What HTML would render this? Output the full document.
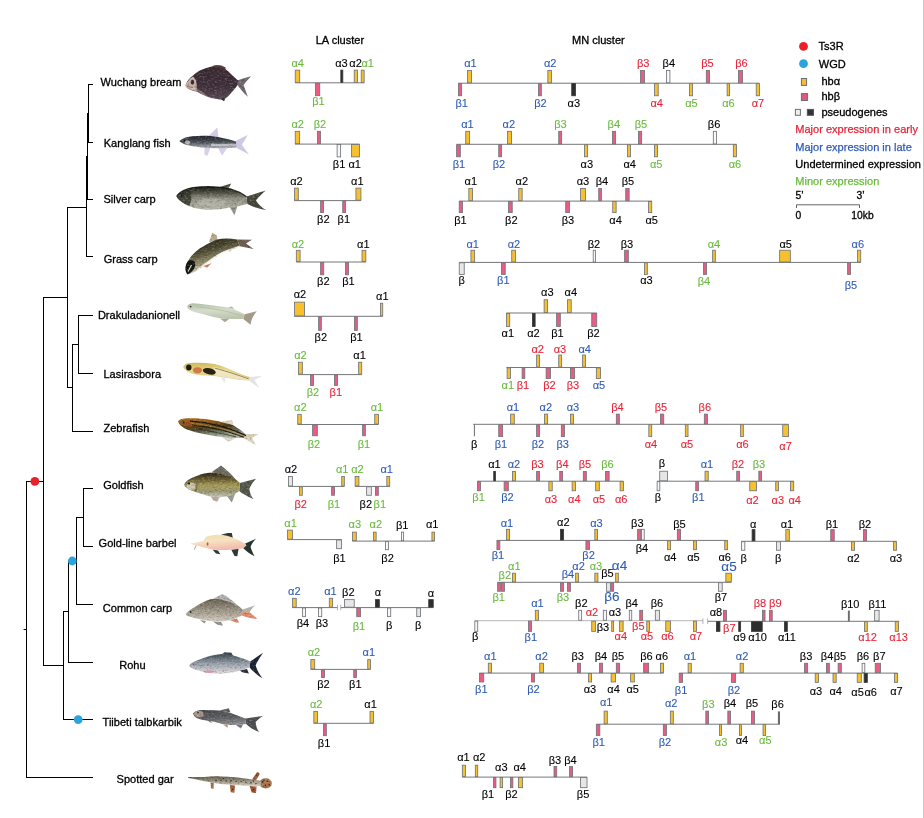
<!DOCTYPE html>
<html><head><meta charset="utf-8"><title>Hemoglobin gene clusters</title>
<style>
html,body{margin:0;padding:0;background:#fff}
body{width:924px;height:818px;overflow:hidden;position:relative}
svg{display:block;font-family:"Liberation Sans",sans-serif;font-size:11.04px}
.edge{position:absolute;left:923px;top:0;width:1px;height:818px;background:#c9c9c9}
</style></head><body>
<svg width="924" height="818" viewBox="0 0 924 818">
<g id="tree">
<g fill="#000">
<rect x="88" y="84" width="1" height="59" />
<rect x="87" y="113" width="1" height="87" />
<rect x="86" y="156" width="1" height="101" />
<rect x="88" y="84" width="5" height="1" />
<rect x="88" y="142" width="5" height="1" />
<rect x="87" y="199" width="6" height="1" />
<rect x="86" y="256" width="7" height="1" />
<rect x="67" y="207" width="19" height="1" />
<rect x="67" y="207" width="1" height="181" />
<rect x="43" y="297" width="24" height="1" />
<rect x="43" y="297" width="1" height="369" />
<rect x="78" y="315" width="15" height="1" />
<rect x="78" y="315" width="1" height="59" />
<rect x="78" y="373" width="15" height="1" />
<rect x="72" y="344" width="6" height="1" />
<rect x="72" y="344" width="1" height="88" />
<rect x="72" y="431" width="21" height="1" />
<rect x="67" y="387" width="5" height="1" />
<rect x="26" y="481" width="17" height="1" />
<rect x="26" y="481" width="1" height="297" />
<rect x="26" y="777" width="67" height="1" />
<rect x="23.6" y="629" width="2.4" height="1" />
<rect x="83" y="488" width="10" height="1" />
<rect x="83" y="488" width="1" height="59" />
<rect x="83" y="546" width="10" height="1" />
<rect x="76" y="517" width="7" height="1" />
<rect x="76" y="517" width="1" height="88" />
<rect x="76" y="604" width="17" height="1" />
<rect x="68" y="560.4" width="8" height="1" />
<rect x="68" y="560.4" width="1" height="102.6" />
<rect x="68" y="662" width="25" height="1" />
<rect x="63" y="611" width="5" height="1" />
<rect x="63" y="611" width="1" height="109" />
<rect x="63" y="719" width="30" height="1" />
<rect x="43" y="665" width="20" height="1" />
</g>
<circle cx="34.9" cy="481.4" r="4.4" fill="#e8222a"/>
<circle cx="72.3" cy="561" r="4.4" fill="#2ba3dc"/>
<circle cx="78.2" cy="719.6" r="4.4" fill="#2ba3dc"/>
</g>
<g id="species">
<text x="100.6" y="86" fill="#000004" stroke="#000004" stroke-width="0.3">Wuchang bream</text>
<text x="103.7" y="147" fill="#000004" stroke="#000004" stroke-width="0.3">Kanglang fish</text>
<text x="103.5" y="202.8" fill="#000004" stroke="#000004" stroke-width="0.3">Silver carp</text>
<text x="103.7" y="262.9" fill="#000004" stroke="#000004" stroke-width="0.3">Grass carp</text>
<text x="97.9" y="318.7" fill="#000004" stroke="#000004" stroke-width="0.3">Drakuladanionell</text>
<text x="103.4" y="377.8" fill="#000004" stroke="#000004" stroke-width="0.3">Lasirasbora</text>
<text x="103.4" y="431.8" fill="#000004" stroke="#000004" stroke-width="0.3">Zebrafish</text>
<text x="103.2" y="488.7" fill="#000004" stroke="#000004" stroke-width="0.3">Goldfish</text>
<text x="98.6" y="547" fill="#000004" stroke="#000004" stroke-width="0.3">Gold-line barbel</text>
<text x="102.8" y="611.8" fill="#000004" stroke="#000004" stroke-width="0.3">Common carp</text>
<text x="119.2" y="668.8" fill="#000004" stroke="#000004" stroke-width="0.3">Rohu</text>
<text x="102.6" y="725.6" fill="#000004" stroke="#000004" stroke-width="0.3">Tiibeti talbkarbik</text>
<text x="116.6" y="782.6" fill="#000004" stroke="#000004" stroke-width="0.3">Spotted gar</text>
<text x="315.7" y="43.8" fill="#000004" stroke="#000004" stroke-width="0.3">LA cluster</text>
<text x="572" y="43.7" fill="#000004" stroke="#000004" stroke-width="0.3">MN cluster</text>
</g>
<g id="fish">
<defs>
<filter id="bl" x="-5%" y="-10%" width="110%" height="120%" color-interpolation-filters="sRGB">
<feTurbulence type="fractalNoise" baseFrequency="0.4 0.6" numOctaves="2" seed="7" result="n"/>
<feColorMatrix in="n" type="matrix" values="0 0 0 0 0  0 0 0 0 0  0 0 0 0 0  0.7 0 0 0 -0.35" result="na"/>
<feComposite in="na" in2="SourceGraphic" operator="in" result="dark"/>
<feColorMatrix in="n" type="matrix" values="0 0 0 0 1  0 0 0 0 1  0 0 0 0 1  0 0.7 0 0 -0.36" result="nb"/>
<feComposite in="nb" in2="SourceGraphic" operator="in" result="light"/>
<feMerge result="m"><feMergeNode in="SourceGraphic"/><feMergeNode in="dark"/><feMergeNode in="light"/></feMerge>
<feGaussianBlur in="m" stdDeviation="0.5"/>
</filter>
<linearGradient id="g1" x1="0" y1="0" x2="0" y2="1"><stop offset="0" stop-color="#3a2a30"/><stop offset=".6" stop-color="#40303c"/><stop offset="1" stop-color="#5a4a55"/></linearGradient>
<linearGradient id="g2" x1="0" y1="0" x2="0" y2="1"><stop offset="0" stop-color="#23262c"/><stop offset=".5" stop-color="#4a4e56"/><stop offset="1" stop-color="#b4b6be"/></linearGradient>
<linearGradient id="g3" x1="0" y1="0" x2="0" y2="1"><stop offset="0" stop-color="#18180f"/><stop offset=".22" stop-color="#45463a"/><stop offset=".5" stop-color="#8e8e82"/><stop offset=".8" stop-color="#a6a69a"/><stop offset="1" stop-color="#bcbcb2"/></linearGradient>
<linearGradient id="g4" x1="0.2" y1="0" x2="0.65" y2="1"><stop offset="0" stop-color="#1b1a12"/><stop offset=".35" stop-color="#4e4a32"/><stop offset=".6" stop-color="#968f6e"/><stop offset=".82" stop-color="#e4e2d6"/><stop offset="1" stop-color="#f4f3ee"/></linearGradient>
<linearGradient id="g5" x1="0" y1="0" x2="0.15" y2="1"><stop offset="0" stop-color="#aebba6"/><stop offset=".5" stop-color="#d5dccf"/><stop offset="1" stop-color="#bcc6ae"/></linearGradient>
<linearGradient id="g6" x1="0" y1="0" x2="0.2" y2="1"><stop offset="0" stop-color="#cdb552"/><stop offset=".5" stop-color="#e6d88e"/><stop offset="1" stop-color="#d9c878"/></linearGradient>
<linearGradient id="g7" x1="0" y1="0" x2="0.28" y2="1"><stop offset="0" stop-color="#b06c1a"/><stop offset=".3" stop-color="#8a5a1a"/><stop offset=".55" stop-color="#4a3a1c"/><stop offset=".8" stop-color="#6e7460"/><stop offset="1" stop-color="#a8b4a6"/></linearGradient>
<linearGradient id="g8" x1="0" y1="0" x2="0" y2="1"><stop offset="0" stop-color="#2a2412"/><stop offset=".28" stop-color="#6a5e30"/><stop offset=".52" stop-color="#a89c58"/><stop offset=".78" stop-color="#9a9872"/><stop offset="1" stop-color="#d0d0c4"/></linearGradient>
<linearGradient id="g9" x1="0" y1="0" x2="0.3" y2="1"><stop offset="0" stop-color="#efe0a8"/><stop offset=".5" stop-color="#f6e2c2"/><stop offset="1" stop-color="#f2bcae"/></linearGradient>
<linearGradient id="g10" x1="0" y1="0" x2="0" y2="1"><stop offset="0" stop-color="#665e50"/><stop offset=".45" stop-color="#989080"/><stop offset="1" stop-color="#d2ccc0"/></linearGradient>
<linearGradient id="g11" x1="0" y1="0" x2="0" y2="1"><stop offset="0" stop-color="#3e4a56"/><stop offset=".4" stop-color="#8a949e"/><stop offset=".8" stop-color="#c8c8ce"/><stop offset="1" stop-color="#e4dce0"/></linearGradient>
<linearGradient id="g12" x1="0" y1="0" x2="0.2" y2="1"><stop offset="0" stop-color="#44464a"/><stop offset=".6" stop-color="#5e6064"/><stop offset="1" stop-color="#88888a"/></linearGradient>
<linearGradient id="g13" x1="0" y1="0" x2="0" y2="1"><stop offset="0" stop-color="#5e564a"/><stop offset=".45" stop-color="#9a927e"/><stop offset="1" stop-color="#dcd6ca"/></linearGradient>
<filter id="bl2" x="-5%" y="-10%" width="110%" height="120%"><feGaussianBlur stdDeviation="0.5"/></filter>
</defs>
<!-- 1 Wuchang bream -->
<g filter="url(#bl)">
<path d="M237.3,80.6 L243,78.6 L251,76.3 C247.5,80 245,83 243.6,85 C245,89 246.5,93 247.8,96.8 C244,93.5 240,88.5 237.2,84.8 Z" fill="#70666f"/>
<path d="M185.8,84.2 C187.5,80.5 190,78 193,75.6 C196,72.5 199.5,70.5 203,69.2 C206.5,67.6 210,66.7 213,66.4 C217,65.6 222,66.5 224.8,68.6 C227.5,70.6 230,73 232.2,75.2 L238,80.4 L237.6,85 C236,87.5 234,90 231.5,92.4 C229.5,95 227.5,97 225.5,98.2 C223,99.8 220,99.8 217.5,99 C213,98.5 209,97.5 205.5,96 C202,94.6 199,93 196.5,91.6 C192.5,90.8 189,89.5 187.2,88 C185.8,86.8 185.4,85.4 185.8,84.2 Z" fill="url(#g1)"/>
<path d="M211,66.6 C215,64 222,64.4 226,67.8 L224.6,69.6 C220,67.4 215.5,66.8 211,66.6 Z" fill="#5c3a3c"/>
<path d="M185.8,84.2 C187.5,81 190,78.5 193,76.5 C196,79 197.5,84 196.5,91.4 C192.5,90.8 189,89.5 187.2,88 C185.8,86.8 185.4,85.4 185.8,84.2 Z" fill="#d6bcb2" opacity=".9"/>
<ellipse cx="192.4" cy="82.2" rx="1.7" ry="2.4" fill="#3c2c30"/><path d="M187,86.5 L193,87.5" stroke="#7a5a58" stroke-width="1" opacity=".7"/>
<path d="M196.5,91.6 C200,93.5 204,95.3 208,96.6 C204,92.5 199.5,90 196.3,88.5 Z" fill="#b09aa0" opacity=".55"/>
<path d="M220,98.7 L225.5,97.6 L224.2,101.2 Z" fill="#3a3040"/>
</g>
<!-- 2 Kanglang fish -->
<g filter="url(#bl2)">
<path d="M208.6,135.8 L217.3,127.6 L218.5,137 Z" fill="#d3cbe4"/>
<path d="M235.5,141 L247.6,135 C245.5,139 243.5,142.5 241.8,144.6 C244,148 246.5,151.5 249,154.5 L236.2,147.7 Z" fill="#d0c8e2"/>
<path d="M218,147.7 L227.4,147.7 L222,155.8 Z" fill="#d8d0e8"/>
<path d="M204.5,147.5 L210.5,147.5 L207.5,155.8 L204.5,155 Z" fill="#d8d0e8"/>
</g>
<g filter="url(#bl)">
<path d="M179.3,141 C183,138 188,136.5 192.5,136.3 C200,135.5 210,135.5 218,137 C226,138.5 232,140 236,141.5 L236.2,147.5 C230,148.2 222,148.5 215,148.2 C207,148 200,147.5 195,146.5 C189,146 182,144 179.3,141 Z" fill="url(#g2)"/>
<path d="M211,145 L236,145" stroke="#d0d0d8" stroke-width="2.4" opacity=".8"/>
<ellipse cx="187.5" cy="142.3" rx="2.6" ry="2.1" fill="#c8c8cc" opacity=".8"/>
<circle cx="184.5" cy="140.8" r="0.8" fill="#111"/>
</g>
<!-- 3 Silver carp -->
<g filter="url(#bl)">
<path d="M218,187.4 L231.2,183.6 L227.6,190 Z" fill="#4e4f42"/>
<path d="M246.6,196.5 L265.7,190.5 C260,195.5 257,199 256,200.5 C258,204 262,208 266,210 C258,208.5 252,206.2 247.3,203.9 Z" fill="#46473a"/>
<path d="M229.8,207.3 L238.5,202.6 L234.5,215.3 Z" fill="#94948a"/>
<path d="M176.3,196 C178.5,193 183,190 189,188.4 C192,187.6 194.5,187.3 197,187.1 C208,186 220,186.5 231,189 C238,191 243,194 246.6,196.5 L247.3,203.9 C242,205.2 236,206.8 229.8,207.6 C222,209.4 213,210.2 206.3,209.7 C198,209.2 190,207 184.8,203.9 C180.5,201.5 177,198.6 176.3,196 Z" fill="url(#g3)"/>
<path d="M177,195.6 C180,192 186,189 193,187.7 C205,186.2 220,186.6 231,189.2 C238,191.2 243,194.2 246.6,196.7" stroke="#14140c" stroke-width="1.3" fill="none" opacity=".8"/>
<path d="M176.3,196 C178.5,193 183,190 189,188.4 C192,190 192.5,197 189.5,205.8 C187.6,205.2 186,204.6 184.8,203.9 C180.5,201.5 177,198.6 176.3,196 Z" fill="#2a2b22" opacity=".75"/>
<ellipse cx="212" cy="202.5" rx="15" ry="4" fill="#c8c8bc" opacity=".45"/>
<circle cx="181.5" cy="195.8" r="0.9" fill="#0a0a08"/>
</g>
<!-- 4 Grass carp -->
<g filter="url(#bl)">
<path d="M209,242.2 L212.3,232.8 L217,235.5 L217.2,239.5 Z" fill="#b4ac8c"/>
<path d="M237.2,239.5 L252,239.8 L246,243.5 L253.6,248.9 L239.9,246.2 Z" fill="#6e5c52"/>
<path d="M203,266 L211.5,263.3 L207,267.8 Z" fill="#d8845c"/>
<path d="M226,250 L233,248.5 L230,251.5 Z" fill="#b08070"/>
<path d="M187.5,274.5 C184.5,271 185,265 188.1,261 C192,254 198,249 203.6,246.2 C208,243.5 213,241 217,239.5 C224,238 231,238.5 237.2,239.5 L239.9,246.2 C234,248 229,250 223.8,251.6 C216,255 208,262 203,266 C199,269.5 193,273.5 187.5,274.5 Z" fill="url(#g4)"/>
<path d="M187.5,274.5 C184.5,271 185,265 188.1,261 C190,259.5 193,260 195,262 C196,266 194,271.5 187.5,274.5 Z" fill="#15150f"/>
<path d="M188,271.5 L191.5,265" stroke="#e8e8e8" stroke-width="1.1"/><path d="M197,270.5 C204,265 212,258 223.8,251.9 C229,250.2 234,248.4 239.5,246.6" stroke="#f6f5f0" stroke-width="1.6" fill="none" opacity=".9"/>
</g>
<!-- 5 Drakuladanionell -->
<g filter="url(#bl2)">
<path d="M244.6,314.2 L256.7,311.2 C253,316 251,320 250.6,324.7 L243.3,318.9 Z" fill="#a39a8a"/>
<path d="M220,318.5 L229,319 L225,322.2 Z" fill="#b4a494"/>
<path d="M228,307.4 L232,306.4 L234,309.2 Z" fill="#b0b49c"/>
<path d="M187.2,306.1 C188.5,304 190.5,303.2 192.8,303.2 C201,303.5 210,305 217,306.1 C222,306.8 227,307.5 230.5,308.1 C236,310 241,312.5 244.6,314.2 L243.3,318.9 C238,319 231,319.2 225.1,318.9 C217,318 209,316 203.6,314.2 C198,313 192,311.5 190.2,310.2 C188,309 187,307.5 187.2,306.1 Z" fill="url(#g5)"/>
<path d="M196,306.5 C210,308 228,311 243,316" stroke="#b6c08c" stroke-width="1.1" fill="none" opacity=".8"/>
<circle cx="190.6" cy="306.6" r="0.9" fill="#4a2a1c"/>
</g>
<!-- 6 Lasirasbora -->
<g filter="url(#bl2)">
<path d="M250,376.9 L262,376 L254.5,380 L259.4,388.1 L248.6,380.6 Z" fill="#e4e4e4"/>
<path d="M221,377.6 L225.5,378.6 L224.5,383.2 Z" fill="#e8e8e2"/>
<path d="M183.2,366.6 C184.5,364.5 186.5,363.3 188.8,363.3 C197,362.5 206,362.8 214.4,364.1 C223,366.3 231,369.8 237.2,372.4 C242,374.4 246.5,376 250,377 L248.6,380.6 C240,380 228,378.2 217,376.2 C208,375.8 199,375.3 192.8,374 C188,372.5 183.5,369.5 183.2,366.6 Z" fill="url(#g6)"/>
<path d="M214,366.8 C224,369.2 236,373.5 249,378.2 L248.6,380.6 C238,379.6 226,377.8 215,375.6 Z" fill="#f4f0dc" opacity=".7"/>
<ellipse cx="197.5" cy="370.3" rx="4.5" ry="3.1" fill="#cc6a40" opacity=".85"/>
<ellipse cx="188.8" cy="367.6" rx="2.7" ry="3" fill="#1c1a10"/>
<ellipse cx="209.3" cy="371.3" rx="6.6" ry="3.1" fill="#2a2416" transform="rotate(12 209.3 371.3)"/>
<path d="M215,368.2 C228,371.6 240,375.8 248.6,378.9" stroke="#8a6a30" stroke-width="0.8" fill="none"/>
</g>
<!-- 7 Zebrafish -->
<g filter="url(#bl)">
<path d="M245.3,433.9 L258.7,433.9 L252,438 L256,445.3 L243.3,437.9 Z" fill="#dcd4bc"/>
<path d="M221,421.5 L232,420 L233.5,425 Z" fill="#e0d8c0"/>
<path d="M222,437 L236,438.5 L228,441.8 Z" fill="#e2dccc"/>
<path d="M178.1,421.1 C180,419 182,418.4 184.8,418.4 C193,418 202,418.5 210.3,419.8 C220,421.5 228,423.5 233.2,425.2 C238,428 242,431 245.3,433.9 L243.3,437.9 C236,438.5 222,437.5 210.3,435.2 C200,433.5 190,431 184.8,428.5 C181,426.5 178.3,424 178.1,421.1 Z" fill="url(#g7)"/>
<path d="M190,421.2 C210,422.3 230,428 246,435.6" stroke="#1e1608" stroke-width="1.2" fill="none"/><path d="M191,423.3 C209,424.6 229,429.8 245,436.6" stroke="#c08a30" stroke-width="0.7" fill="none"/>
<path d="M192,425 C208,426.5 228,431 244,437.3" stroke="#221a0a" stroke-width="1.2" fill="none"/><path d="M196,428.6 C208,430.6 222,433.6 236,436.8" stroke="#2a2410" stroke-width="0.9" fill="none" opacity=".8"/>
<path d="M188,421 L190,426.5" stroke="#c03020" stroke-width="1.6"/>
<circle cx="183.5" cy="422.5" r="1.1" fill="#222"/>
</g>
<!-- 8 Goldfish -->
<g filter="url(#bl)">
<path d="M211.6,472.2 L221,465.5 C227,470 232,475 235.9,479.6 C228,475.5 219,473 211.6,472.2 Z" fill="#6c6c60"/>
<path d="M239.9,483 L256,478.7 C251,484 249.3,489 249.3,489 C250,493 251,496 253.3,499.1 C247,496 242,493.5 239.2,491 Z" fill="#55564a"/>
<path d="M226.5,495.5 L235.5,493 L231.8,502.4 Z" fill="#9c9c94"/>
<path d="M210.5,496 L219.7,497 L217,501.8 L213.5,500.5 Z" fill="#b8a8a0"/>
<path d="M184.1,484.3 C186,481 189,479 192.8,477.6 C198,475 203,473.5 207.6,472.9 C216,472 226,474 235.9,479.6 L239.9,483 L239.2,491 C236,493.4 232,495.2 228,496.2 C220,498 210,497.6 203.6,494.6 C197,492.6 190,490.8 187.5,488.3 C185,487 184,485.5 184.1,484.3 Z" fill="url(#g8)"/>
<ellipse cx="191" cy="486.2" rx="4.2" ry="3.6" fill="#d0ccb8" opacity=".9"/>
<path d="M195.8,479 C197.5,483 197.5,488 195.5,491" stroke="#6a6040" stroke-width="0.9" fill="none"/>
<circle cx="188.8" cy="483.4" r="1.2" fill="#111"/>
</g>
<!-- 9 Gold-line barbel -->
<g filter="url(#bl2)">
<path d="M221,534.8 L227.8,533 L231.8,533 L233.4,540.4 C229,538 225,536 221,534.8 Z" fill="#2b3b32"/>
<path d="M245.3,543.5 L256,538.8 C253,542 251,545 250.6,546.9 C251.5,550 253,553.5 254.7,556.3 C250,554 246,551 243.3,548.2 Z" fill="#25352d"/>
<path d="M231.2,549.5 L238.6,548.8 L237.3,556.3 L234.5,556 Z" fill="#2b3b32"/>
<path d="M212.5,549.5 L218,550.5 L220.4,554.3 L216,553.5 Z" fill="#2b3b32"/>
<path d="M196.2,545.3 L194.3,549.6" stroke="#9a8c84" stroke-width="0.8"/>
<path d="M190.2,543.5 C195,543 200,542 203.6,540.8 C204.5,538.5 205.3,537.3 206.3,536.8 C211,535 216,534.6 221,534.8 C229,535.5 238,539.5 245.3,543.5 L246.5,545.5 L243.3,548.2 C236,549.5 228,550 221,550 C217,549.8 213,549.5 210.3,548.9 C205,547.8 200,546.5 196.9,545.5 C194,545 191.5,544.3 190.2,543.5 Z" fill="url(#g9)"/>
<ellipse cx="207.6" cy="544" rx="0.9" ry="1.8" fill="#d84848"/>
</g>
<!-- 10 Common carp -->
<g filter="url(#bl)">
<path d="M212,599.2 L222.4,593.9 C228,597 234,601.5 238.5,606 C230,601.5 220,599.4 212,599.2 Z" fill="#b2b2b0"/>
<path d="M242.6,609.4 L255.3,605.3 C252,608 250,611 249.5,612.5 L242.2,612.5 Z" fill="#b6b2aa"/>
<path d="M242.2,612.3 L249.5,612.3 L257.4,618.8 C252,618.5 246,617 241.9,615.4 Z" fill="#e08868"/>
<path d="M230,620 L237,618.5 L239,622.5 L235.9,622.4 Z" fill="#dc8060"/>
<path d="M213,621.5 L221,622 L223,625.5 L218,625 Z" fill="#9a9490"/>
<path d="M200,620 L206,621 L204.5,623.4 Z" fill="#9a9490"/>
<path d="M185.9,614.1 C188,611 191,609 194.2,607.4 C199,604 205,601 210.3,599.3 C218,598 228,600 238.5,606 L242.6,609.4 L241.9,615.4 C238,617.5 233,619.5 228,620.5 C220,622 210,621.5 203.6,620.1 C197,619 190,617 187,615.8 C186,615.3 185.7,614.7 185.9,614.1 Z" fill="url(#g10)"/>
<circle cx="190.6" cy="612" r="0.9" fill="#222"/>
</g>
<!-- 11 Rohu -->
<g filter="url(#bl)">
<path d="M222,654.1 L224.5,652.2 L231.5,652.8 L233,656 Z" fill="#3c4854"/>
<path d="M250.3,661.5 L263,652.8 C259,659 256.5,663 255.6,665.5 C257,670 259.5,674.5 262.4,678.3 C256,674 252,670.5 249.6,667.6 Z" fill="#1c2434"/>
<path d="M239.5,670.5 L247,669 L248.9,673.6 L243,672.6 Z" fill="#2a3242"/>
<path d="M189.1,665.5 C191,663 194,661.5 197.8,660.2 C205,657 214,654.8 222,654.1 C232,654.5 242,658 250.3,661.5 L249.6,667.6 C242,670.5 232,673 222,673.8 C218,674 216,673.8 215.3,673.6 C208,673.2 200,671.5 195.2,669.6 C192,668.5 189.5,667 189.1,665.5 Z" fill="url(#g11)"/>
<ellipse cx="209" cy="671.6" rx="6" ry="1.3" fill="#d8889a" opacity=".8"/>
<circle cx="193.5" cy="664.8" r="0.8" fill="#a03848"/>
</g>
<!-- 12 Tiibeti -->
<g filter="url(#bl)">
<path d="M219.4,710.6 L228.8,708.3 L230.5,712.5 Z" fill="#606264"/>
<path d="M244.9,718.6 L263,715.9 C259,718.5 256.5,720.5 255.6,722 C256,726 257,729 259,732.1 C253,729.5 249,727 246.2,724 Z" fill="#4c4e52"/>
<path d="M236,725 L243,724.5 L240.9,728.6 Z" fill="#6a7478"/>
<path d="M223,724.5 L228,724.8 L227.5,727.8 Z" fill="#d89060"/>
<path d="M207,718 L212.5,722.8 L209,722 Z" fill="#b08060"/>
<path d="M193.1,713.3 C195,711 198,710 201.9,709.9 C208,709.8 214,710 219.4,710.6 C226,711.5 236,714.5 244.9,718.6 L246.2,724 C240,725 234,725.2 228,724.8 C222,724.2 218,723 215.3,722 C208,721 201,720 197.8,718.6 C195,717.5 193.3,715.5 193.1,713.3 Z" fill="url(#g12)"/>
<ellipse cx="198.8" cy="714" rx="4.8" ry="3.2" fill="#c0a898" opacity=".8"/>
<circle cx="198" cy="712.6" r="0.9" fill="#222"/>
</g>
<!-- 13 Spotted gar -->
<g filter="url(#bl)">
<path d="M252,779.4 L256.8,772.4 C258.6,771.6 260,772.8 259.4,774.8 L255.8,780.6 Z" fill="#9a5834"/>
<ellipse cx="265.6" cy="783.3" rx="6.3" ry="5.1" fill="#a8744c"/>
<path d="M249.6,786 L256.6,786.4 L256,793 L251.8,792.4 Z" fill="#9a5030"/>
<path d="M229.8,785 L235,785.5 L234.4,792.8 L230.8,792.2 Z" fill="#a45a36"/>
<path d="M210.6,782.4 L213.8,783 L213.6,789 L211,788.2 Z" fill="#a0704e"/>
<path d="M188.1,777 L204.5,776.9 C210,776.3 215,776.2 220.5,776.4 C230,776.6 240,777.5 248.9,779 C253,779.6 257,780.3 261,780.8 L261,786.3 C256,786.5 252,786.2 248.9,785.8 C240,785.5 230,785 220.5,784.1 C214,783.3 208,782 204.5,781.3 C198,779.8 192,778.5 188.1,777.9 Z" fill="url(#g13)"/>
<g fill="#2a2018">
<circle cx="216" cy="780.5" r=".7"/><circle cx="221" cy="780.2" r=".7"/><circle cx="226" cy="781" r=".7"/><circle cx="231" cy="780.8" r=".7"/><circle cx="236" cy="781.6" r=".7"/><circle cx="241" cy="781.6" r=".7"/><circle cx="246" cy="782.6" r=".7"/><circle cx="251" cy="782.8" r=".7"/><circle cx="256" cy="783.6" r=".7"/>
<circle cx="223.5" cy="778.4" r=".5"/><circle cx="233.5" cy="779" r=".5"/><circle cx="243.5" cy="780" r=".5"/><circle cx="253.5" cy="781" r=".5"/>
<circle cx="262.5" cy="782" r=".8"/><circle cx="265.5" cy="785.2" r=".8"/><circle cx="267.5" cy="781.3" r=".8"/><circle cx="269.2" cy="784.8" r=".7"/><circle cx="264" cy="780.2" r=".6"/><circle cx="263.5" cy="786" r=".6"/>
<circle cx="256.6" cy="775" r=".6"/><circle cx="253.4" cy="789.5" r=".6"/><circle cx="232.4" cy="789.6" r=".6"/>
</g>
</g>

</g>
<g id="legend">
<circle cx="803.5" cy="46.4" r="4.4" fill="#e8222a"/>
<text x="818.6" y="50" fill="#000004" stroke="#000004" stroke-width="0.3">Ts3R</text>
<circle cx="803.5" cy="63.7" r="4.4" fill="#2ba3dc"/>
<text x="818.8" y="67.9" fill="#000004" stroke="#000004" stroke-width="0.3">WGD</text>
<rect x="801.4" y="78.5" width="5.2" height="6.9" fill="#f0bd36" stroke="#6c6e72" stroke-width="1"/>
<text x="821.4" y="85" fill="#000004" stroke="#000004" stroke-width="0.3">hbα</text>
<rect x="801.4" y="93.6" width="6.2" height="6.9" fill="#de587c" stroke="#6c6e72" stroke-width="1"/>
<text x="821.4" y="99.7" fill="#000004" stroke="#000004" stroke-width="0.3">hbβ</text>
<rect x="795.4" y="109.4" width="5" height="5.9" fill="#eeeeee" stroke="#6c6e72" stroke-width="1"/>
<rect x="807.3" y="109.4" width="6.2" height="5.9" fill="#333436" stroke="#55575a" stroke-width="1"/>
<text x="821.4" y="116" fill="#000004" stroke="#000004" stroke-width="0.3">pseudogenes</text>
<text x="795.3" y="132.7" fill="#e82438" stroke="#e82438" stroke-width="0.25">Major expression in early</text>
<text x="795.3" y="151" fill="#2f5bb4" stroke="#2f5bb4" stroke-width="0.25">Major expression in late</text>
<text x="795.3" y="168.1" fill="#000004" stroke="#000004" stroke-width="0.3">Undetermined expression</text>
<text x="795.3" y="184.8" fill="#69ba3e" stroke="#69ba3e" stroke-width="0.25">Minor expression</text>
<text x="795.6" y="198.7" fill="#000004" stroke="#000004" stroke-width="0.3" font-size="10.3">5’</text>
<text x="856.6" y="198.7" fill="#000004" stroke="#000004" stroke-width="0.3" font-size="10.3">3’</text>
<path d="M796.5 208 V204.8 H859.5 V208" fill="none" stroke="#555" stroke-width="0.9"/>
<text x="795.6" y="218.7" fill="#000004" stroke="#000004" stroke-width="0.3" font-size="10.3">0</text>
<text x="851.3" y="218.7" fill="#000004" stroke="#000004" stroke-width="0.3" font-size="10.3">10kb</text>
</g>
<g id="clusters">
<rect x="295.1" y="82.3" width="69.2" height="1.0" fill="#74777b"/>
<rect x="295.23" y="70.12" width="4.5" height="12.25" fill="#f7c02e" stroke="#70747a" stroke-width="0.85"/>
<text x="297.7" y="66.8" text-anchor="middle" fill="#69ba3e" stroke="#69ba3e" stroke-width="0.1">α4</text>
<rect x="340.82" y="70.12" width="2" height="12.25" fill="#2d2d2d" stroke="#3a3a3a" stroke-width="0.85"/>
<text x="341.5" y="66.8" text-anchor="middle" fill="#000004" stroke="#000004" stroke-width="0.1">α3</text>
<rect x="354.23" y="70.12" width="3.3" height="12.25" fill="#f7c02e" stroke="#70747a" stroke-width="0.85"/>
<text x="355.6" y="66.8" text-anchor="middle" fill="#000004" stroke="#000004" stroke-width="0.1">α2</text>
<rect x="361.23" y="70.12" width="2.9" height="12.25" fill="#f7c02e" stroke="#70747a" stroke-width="0.85"/>
<text x="367.7" y="66.8" text-anchor="middle" fill="#69ba3e" stroke="#69ba3e" stroke-width="0.1">α1</text>
<rect x="315.43" y="83.22" width="4.3" height="12.45" fill="#ea5c82" stroke="#70747a" stroke-width="0.85"/>
<text x="318.4" y="105.4" text-anchor="middle" fill="#69ba3e" stroke="#69ba3e" stroke-width="0.1">β1</text>
<rect x="458.3" y="82.7" width="301.2" height="1.0" fill="#74777b"/>
<rect x="467.52" y="70.52" width="4" height="12.25" fill="#f7c02e" stroke="#70747a" stroke-width="0.85"/>
<text x="470.5" y="66.9" text-anchor="middle" fill="#2f5bb4" stroke="#2f5bb4" stroke-width="0.1">α1</text>
<rect x="547.83" y="70.52" width="3.7" height="12.25" fill="#f7c02e" stroke="#70747a" stroke-width="0.85"/>
<text x="550.2" y="66.9" text-anchor="middle" fill="#2f5bb4" stroke="#2f5bb4" stroke-width="0.1">α2</text>
<rect x="640.52" y="70.52" width="3.9" height="12.25" fill="#ea5c82" stroke="#70747a" stroke-width="0.85"/>
<text x="643.2" y="66.9" text-anchor="middle" fill="#e82438" stroke="#e82438" stroke-width="0.1">β3</text>
<rect x="666.52" y="70.52" width="3.4" height="12.25" fill="#f7f7f7" stroke="#70747a" stroke-width="0.85"/>
<text x="668.8" y="66.9" text-anchor="middle" fill="#000004" stroke="#000004" stroke-width="0.1">β4</text>
<rect x="706.33" y="70.52" width="3.2" height="12.25" fill="#ea5c82" stroke="#70747a" stroke-width="0.85"/>
<text x="707.4" y="66.9" text-anchor="middle" fill="#e82438" stroke="#e82438" stroke-width="0.1">β5</text>
<rect x="738.52" y="70.52" width="4" height="12.25" fill="#ea5c82" stroke="#70747a" stroke-width="0.85"/>
<text x="741.4" y="66.9" text-anchor="middle" fill="#e82438" stroke="#e82438" stroke-width="0.1">β6</text>
<rect x="458.43" y="83.62" width="3.2" height="12.15" fill="#ea5c82" stroke="#70747a" stroke-width="0.85"/>
<text x="461.7" y="106.6" text-anchor="middle" fill="#2f5bb4" stroke="#2f5bb4" stroke-width="0.1">β1</text>
<rect x="538.42" y="83.62" width="2.9" height="12.15" fill="#ea5c82" stroke="#70747a" stroke-width="0.85"/>
<text x="540.5" y="106.6" text-anchor="middle" fill="#2f5bb4" stroke="#2f5bb4" stroke-width="0.1">β2</text>
<rect x="571.73" y="83.62" width="3.7" height="12.15" fill="#2d2d2d" stroke="#3a3a3a" stroke-width="0.85"/>
<text x="573.8" y="106.6" text-anchor="middle" fill="#000004" stroke="#000004" stroke-width="0.1">α3</text>
<rect x="654.52" y="83.62" width="3.7" height="12.15" fill="#f7c02e" stroke="#70747a" stroke-width="0.85"/>
<text x="656.7" y="106.6" text-anchor="middle" fill="#e82438" stroke="#e82438" stroke-width="0.1">α4</text>
<rect x="689.52" y="83.62" width="2.9" height="12.15" fill="#f7c02e" stroke="#70747a" stroke-width="0.85"/>
<text x="691.4" y="106.6" text-anchor="middle" fill="#69ba3e" stroke="#69ba3e" stroke-width="0.1">α5</text>
<rect x="727.12" y="83.62" width="2.4" height="12.15" fill="#f7c02e" stroke="#70747a" stroke-width="0.85"/>
<text x="728.5" y="106.6" text-anchor="middle" fill="#69ba3e" stroke="#69ba3e" stroke-width="0.1">α6</text>
<rect x="756.23" y="83.62" width="3.2" height="12.15" fill="#f7c02e" stroke="#70747a" stroke-width="0.85"/>
<text x="758" y="106.6" text-anchor="middle" fill="#e82438" stroke="#e82438" stroke-width="0.1">α7</text>
<rect x="295.1" y="143.6" width="64.4" height="1.0" fill="#74777b"/>
<rect x="295.23" y="131.33" width="4.4" height="12.35" fill="#f7c02e" stroke="#70747a" stroke-width="0.85"/>
<text x="297.7" y="127.5" text-anchor="middle" fill="#69ba3e" stroke="#69ba3e" stroke-width="0.1">α2</text>
<rect x="317.52" y="131.33" width="3" height="12.35" fill="#ea5c82" stroke="#70747a" stroke-width="0.85"/>
<text x="320" y="127.5" text-anchor="middle" fill="#69ba3e" stroke="#69ba3e" stroke-width="0.1">β2</text>
<rect x="337.12" y="144.53" width="3.5" height="12.35" fill="#f7f7f7" stroke="#70747a" stroke-width="0.85"/>
<text x="339.1" y="168.4" text-anchor="middle" fill="#000004" stroke="#000004" stroke-width="0.1">β1</text>
<rect x="351.52" y="144.53" width="7.9" height="12.35" fill="#f7c02e" stroke="#70747a" stroke-width="0.85"/>
<text x="354.7" y="168.4" text-anchor="middle" fill="#000004" stroke="#000004" stroke-width="0.1">α1</text>
<rect x="456.5" y="143.8" width="280.1" height="1.0" fill="#74777b"/>
<rect x="465.73" y="131.33" width="3.9" height="12.55" fill="#f7c02e" stroke="#70747a" stroke-width="0.85"/>
<text x="467.5" y="128" text-anchor="middle" fill="#2f5bb4" stroke="#2f5bb4" stroke-width="0.1">α1</text>
<rect x="507.52" y="131.33" width="4" height="12.55" fill="#f7c02e" stroke="#70747a" stroke-width="0.85"/>
<text x="508.8" y="128" text-anchor="middle" fill="#2f5bb4" stroke="#2f5bb4" stroke-width="0.1">α2</text>
<rect x="558.73" y="131.33" width="2.9" height="12.55" fill="#ea5c82" stroke="#70747a" stroke-width="0.85"/>
<text x="560.5" y="128" text-anchor="middle" fill="#69ba3e" stroke="#69ba3e" stroke-width="0.1">β3</text>
<rect x="612.42" y="131.33" width="3.2" height="12.55" fill="#ea5c82" stroke="#70747a" stroke-width="0.85"/>
<text x="613.8" y="128" text-anchor="middle" fill="#69ba3e" stroke="#69ba3e" stroke-width="0.1">β4</text>
<rect x="638.42" y="131.33" width="3.2" height="12.55" fill="#ea5c82" stroke="#70747a" stroke-width="0.85"/>
<text x="640.9" y="128" text-anchor="middle" fill="#69ba3e" stroke="#69ba3e" stroke-width="0.1">β5</text>
<rect x="713.33" y="131.33" width="3.2" height="12.55" fill="#f7f7f7" stroke="#70747a" stroke-width="0.85"/>
<text x="714.1" y="128" text-anchor="middle" fill="#000004" stroke="#000004" stroke-width="0.1">β6</text>
<rect x="456.62" y="144.73" width="3.7" height="12.05" fill="#ea5c82" stroke="#70747a" stroke-width="0.85"/>
<text x="459" y="168" text-anchor="middle" fill="#2f5bb4" stroke="#2f5bb4" stroke-width="0.1">β1</text>
<rect x="498.73" y="144.73" width="2.9" height="12.05" fill="#ea5c82" stroke="#70747a" stroke-width="0.85"/>
<text x="499" y="168" text-anchor="middle" fill="#2f5bb4" stroke="#2f5bb4" stroke-width="0.1">β2</text>
<rect x="584.42" y="144.73" width="3.2" height="12.05" fill="#f7c02e" stroke="#70747a" stroke-width="0.85"/>
<text x="586.8" y="168" text-anchor="middle" fill="#000004" stroke="#000004" stroke-width="0.1">α3</text>
<rect x="627.52" y="144.73" width="2.9" height="12.05" fill="#f7c02e" stroke="#70747a" stroke-width="0.85"/>
<text x="629.7" y="168" text-anchor="middle" fill="#000004" stroke="#000004" stroke-width="0.1">α4</text>
<rect x="654.52" y="144.73" width="2.9" height="12.05" fill="#f7c02e" stroke="#70747a" stroke-width="0.85"/>
<text x="656.2" y="168" text-anchor="middle" fill="#69ba3e" stroke="#69ba3e" stroke-width="0.1">α5</text>
<rect x="733.33" y="144.73" width="3.2" height="12.05" fill="#f7c02e" stroke="#70747a" stroke-width="0.85"/>
<text x="734.9" y="168" text-anchor="middle" fill="#69ba3e" stroke="#69ba3e" stroke-width="0.1">α6</text>
<rect x="294.4" y="200.1" width="66.6" height="1.0" fill="#74777b"/>
<rect x="294.52" y="188.13" width="3.8" height="12.05" fill="#f7c02e" stroke="#70747a" stroke-width="0.85"/>
<text x="296.5" y="184.7" text-anchor="middle" fill="#000004" stroke="#000004" stroke-width="0.1">α2</text>
<rect x="355.93" y="188.13" width="5" height="12.05" fill="#f7c02e" stroke="#70747a" stroke-width="0.85"/>
<text x="357.3" y="184.7" text-anchor="middle" fill="#000004" stroke="#000004" stroke-width="0.1">α1</text>
<rect x="320.62" y="201.03" width="2.9" height="11.55" fill="#ea5c82" stroke="#70747a" stroke-width="0.85"/>
<text x="323.3" y="223.4" text-anchor="middle" fill="#000004" stroke="#000004" stroke-width="0.1">β2</text>
<rect x="342.73" y="201.03" width="2.9" height="11.55" fill="#ea5c82" stroke="#70747a" stroke-width="0.85"/>
<text x="343.8" y="223.4" text-anchor="middle" fill="#000004" stroke="#000004" stroke-width="0.1">β1</text>
<rect x="459.1" y="200.6" width="192.7" height="1.0" fill="#74777b"/>
<rect x="468.82" y="188.43" width="3.7" height="12.25" fill="#f7c02e" stroke="#70747a" stroke-width="0.85"/>
<text x="470.8" y="184.8" text-anchor="middle" fill="#000004" stroke="#000004" stroke-width="0.1">α1</text>
<rect x="518.73" y="188.43" width="3.4" height="12.25" fill="#f7c02e" stroke="#70747a" stroke-width="0.85"/>
<text x="521.8" y="184.8" text-anchor="middle" fill="#000004" stroke="#000004" stroke-width="0.1">α2</text>
<rect x="580.52" y="188.43" width="5" height="12.25" fill="#f7c02e" stroke="#70747a" stroke-width="0.85"/>
<text x="583" y="184.8" text-anchor="middle" fill="#000004" stroke="#000004" stroke-width="0.1">α3</text>
<rect x="598.73" y="188.43" width="2.7" height="12.25" fill="#ea5c82" stroke="#70747a" stroke-width="0.85"/>
<text x="602" y="184.8" text-anchor="middle" fill="#000004" stroke="#000004" stroke-width="0.1">β4</text>
<rect x="625.73" y="188.43" width="3.4" height="12.25" fill="#ea5c82" stroke="#70747a" stroke-width="0.85"/>
<text x="628" y="184.8" text-anchor="middle" fill="#000004" stroke="#000004" stroke-width="0.1">β5</text>
<rect x="459.23" y="201.53" width="3.2" height="11.05" fill="#ea5c82" stroke="#70747a" stroke-width="0.85"/>
<text x="460.4" y="223.8" text-anchor="middle" fill="#000004" stroke="#000004" stroke-width="0.1">β1</text>
<rect x="508.52" y="201.53" width="3.7" height="11.05" fill="#ea5c82" stroke="#70747a" stroke-width="0.85"/>
<text x="511.3" y="223.8" text-anchor="middle" fill="#000004" stroke="#000004" stroke-width="0.1">β2</text>
<rect x="565.73" y="201.53" width="3.7" height="11.05" fill="#ea5c82" stroke="#70747a" stroke-width="0.85"/>
<text x="568" y="223.8" text-anchor="middle" fill="#000004" stroke="#000004" stroke-width="0.1">β3</text>
<rect x="612.73" y="201.53" width="3.4" height="11.05" fill="#f7c02e" stroke="#70747a" stroke-width="0.85"/>
<text x="615.6" y="223.8" text-anchor="middle" fill="#000004" stroke="#000004" stroke-width="0.1">α4</text>
<rect x="648.52" y="201.53" width="3.2" height="11.05" fill="#f7c02e" stroke="#70747a" stroke-width="0.85"/>
<text x="651.7" y="223.8" text-anchor="middle" fill="#000004" stroke="#000004" stroke-width="0.1">α5</text>
<rect x="296.2" y="261.5" width="69.7" height="1.0" fill="#74777b"/>
<rect x="296.32" y="250.33" width="3.8" height="11.25" fill="#f7c02e" stroke="#70747a" stroke-width="0.85"/>
<text x="298" y="248.1" text-anchor="middle" fill="#69ba3e" stroke="#69ba3e" stroke-width="0.1">α2</text>
<rect x="362.02" y="250.33" width="3.8" height="11.25" fill="#f7c02e" stroke="#70747a" stroke-width="0.85"/>
<text x="363.3" y="248.1" text-anchor="middle" fill="#000004" stroke="#000004" stroke-width="0.1">α1</text>
<rect x="320.62" y="262.43" width="3.1" height="12.35" fill="#ea5c82" stroke="#70747a" stroke-width="0.85"/>
<text x="323.3" y="285" text-anchor="middle" fill="#000004" stroke="#000004" stroke-width="0.1">β2</text>
<rect x="345.43" y="262.43" width="3.1" height="12.35" fill="#ea5c82" stroke="#70747a" stroke-width="0.85"/>
<text x="348.5" y="285" text-anchor="middle" fill="#000004" stroke="#000004" stroke-width="0.1">β1</text>
<rect x="459.1" y="261.9" width="401.7" height="1.0" fill="#74777b"/>
<rect x="470.93" y="250.23" width="3.7" height="11.75" fill="#f7c02e" stroke="#70747a" stroke-width="0.85"/>
<text x="472.7" y="248" text-anchor="middle" fill="#2f5bb4" stroke="#2f5bb4" stroke-width="0.1">α1</text>
<rect x="511.73" y="250.23" width="3.7" height="11.75" fill="#f7c02e" stroke="#70747a" stroke-width="0.85"/>
<text x="513.9" y="248" text-anchor="middle" fill="#2f5bb4" stroke="#2f5bb4" stroke-width="0.1">α2</text>
<rect x="593.23" y="250.23" width="2.2" height="11.75" fill="#f7f7f7" stroke="#70747a" stroke-width="0.85"/>
<text x="593.9" y="248" text-anchor="middle" fill="#000004" stroke="#000004" stroke-width="0.1">β2</text>
<rect x="624.62" y="250.23" width="3.7" height="11.75" fill="#ea5c82" stroke="#70747a" stroke-width="0.85"/>
<text x="627" y="248" text-anchor="middle" fill="#000004" stroke="#000004" stroke-width="0.1">β3</text>
<rect x="712.62" y="250.23" width="2.7" height="11.75" fill="#f7c02e" stroke="#70747a" stroke-width="0.85"/>
<text x="713.9" y="248" text-anchor="middle" fill="#69ba3e" stroke="#69ba3e" stroke-width="0.1">α4</text>
<rect x="779.62" y="250.23" width="10.7" height="11.75" fill="#f7c02e" stroke="#70747a" stroke-width="0.85"/>
<text x="785.7" y="248" text-anchor="middle" fill="#000004" stroke="#000004" stroke-width="0.1">α5</text>
<rect x="857.52" y="250.23" width="3.2" height="11.75" fill="#f7c02e" stroke="#70747a" stroke-width="0.85"/>
<text x="857.8" y="248" text-anchor="middle" fill="#2f5bb4" stroke="#2f5bb4" stroke-width="0.1">α6</text>
<rect x="459.23" y="262.82" width="5" height="11.65" fill="#e6e6e6" stroke="#70747a" stroke-width="0.85"/>
<text x="461.7" y="284.2" text-anchor="middle" fill="#000004" stroke="#000004" stroke-width="0.1">β</text>
<rect x="501.52" y="262.82" width="3.7" height="11.65" fill="#ea5c82" stroke="#70747a" stroke-width="0.85"/>
<text x="503.3" y="284.2" text-anchor="middle" fill="#2f5bb4" stroke="#2f5bb4" stroke-width="0.1">β1</text>
<rect x="644.42" y="262.82" width="2.9" height="11.65" fill="#f7c02e" stroke="#70747a" stroke-width="0.85"/>
<text x="646.5" y="284.2" text-anchor="middle" fill="#000004" stroke="#000004" stroke-width="0.1">α3</text>
<rect x="703.52" y="262.82" width="2.9" height="11.65" fill="#ea5c82" stroke="#70747a" stroke-width="0.85"/>
<text x="704" y="284.7" text-anchor="middle" fill="#69ba3e" stroke="#69ba3e" stroke-width="0.1">β4</text>
<rect x="847.62" y="262.82" width="2.9" height="11.65" fill="#ea5c82" stroke="#70747a" stroke-width="0.85"/>
<text x="851" y="288.6" text-anchor="middle" fill="#2f5bb4" stroke="#2f5bb4" stroke-width="0.1">β5</text>
<rect x="294.3" y="315.8" width="88.4" height="1.0" fill="#74777b"/>
<rect x="294.43" y="302.12" width="10.1" height="13.75" fill="#f7c02e" stroke="#70747a" stroke-width="0.85"/>
<text x="300" y="297.6" text-anchor="middle" fill="#000004" stroke="#000004" stroke-width="0.1">α2</text>
<rect x="380.52" y="303.23" width="2.2" height="12.65" fill="#f7c02e" stroke="#70747a" stroke-width="0.85"/>
<text x="382.3" y="299.8" text-anchor="middle" fill="#000004" stroke="#000004" stroke-width="0.1">α1</text>
<rect x="318.62" y="316.73" width="2.7" height="13.65" fill="#ea5c82" stroke="#70747a" stroke-width="0.85"/>
<text x="320.8" y="340.5" text-anchor="middle" fill="#000004" stroke="#000004" stroke-width="0.1">β2</text>
<rect x="354.43" y="316.73" width="2.9" height="13.65" fill="#ea5c82" stroke="#70747a" stroke-width="0.85"/>
<text x="356.4" y="340.5" text-anchor="middle" fill="#000004" stroke="#000004" stroke-width="0.1">β1</text>
<rect x="506.4" y="312.5" width="90.4" height="1.0" fill="#74777b"/>
<rect x="544.12" y="299.73" width="3.5" height="12.85" fill="#f7c02e" stroke="#70747a" stroke-width="0.85"/>
<text x="547.3" y="295.6" text-anchor="middle" fill="#000004" stroke="#000004" stroke-width="0.1">α3</text>
<rect x="567.52" y="299.73" width="3.7" height="12.85" fill="#f7c02e" stroke="#70747a" stroke-width="0.85"/>
<text x="570.8" y="295.6" text-anchor="middle" fill="#000004" stroke="#000004" stroke-width="0.1">α4</text>
<rect x="506.52" y="313.43" width="3.2" height="13.05" fill="#f7c02e" stroke="#70747a" stroke-width="0.85"/>
<text x="507.8" y="336.6" text-anchor="middle" fill="#000004" stroke="#000004" stroke-width="0.1">α1</text>
<rect x="532.42" y="313.43" width="2.7" height="13.05" fill="#2d2d2d" stroke="#3a3a3a" stroke-width="0.85"/>
<text x="533.5" y="336.6" text-anchor="middle" fill="#000004" stroke="#000004" stroke-width="0.1">α2</text>
<rect x="556.62" y="313.43" width="3.7" height="13.05" fill="#ea5c82" stroke="#70747a" stroke-width="0.85"/>
<text x="557.5" y="336.6" text-anchor="middle" fill="#000004" stroke="#000004" stroke-width="0.1">β1</text>
<rect x="591.73" y="313.43" width="5" height="13.05" fill="#ea5c82" stroke="#70747a" stroke-width="0.85"/>
<text x="593.5" y="336.6" text-anchor="middle" fill="#000004" stroke="#000004" stroke-width="0.1">β2</text>
<rect x="298.3" y="374.1" width="63.5" height="1.0" fill="#74777b"/>
<rect x="298.43" y="362.23" width="3.9" height="11.95" fill="#f7c02e" stroke="#70747a" stroke-width="0.85"/>
<text x="300.5" y="358.5" text-anchor="middle" fill="#69ba3e" stroke="#69ba3e" stroke-width="0.1">α2</text>
<rect x="358.62" y="362.23" width="3.1" height="11.95" fill="#f7c02e" stroke="#70747a" stroke-width="0.85"/>
<text x="359.6" y="358.5" text-anchor="middle" fill="#000004" stroke="#000004" stroke-width="0.1">α1</text>
<rect x="310.43" y="375.03" width="3.1" height="10.35" fill="#ea5c82" stroke="#70747a" stroke-width="0.85"/>
<text x="312.9" y="395.5" text-anchor="middle" fill="#69ba3e" stroke="#69ba3e" stroke-width="0.1">β2</text>
<rect x="334.43" y="375.03" width="3.1" height="10.35" fill="#ea5c82" stroke="#70747a" stroke-width="0.85"/>
<text x="335.8" y="395.5" text-anchor="middle" fill="#e82438" stroke="#e82438" stroke-width="0.1">β1</text>
<rect x="506.4" y="367" width="94.2" height="1.0" fill="#74777b"/>
<rect x="536.62" y="355.03" width="2.9" height="12.05" fill="#f7c02e" stroke="#70747a" stroke-width="0.85"/>
<text x="537.7" y="352.7" text-anchor="middle" fill="#e82438" stroke="#e82438" stroke-width="0.1">α2</text>
<rect x="558.73" y="355.03" width="2.9" height="12.05" fill="#f7c02e" stroke="#70747a" stroke-width="0.85"/>
<text x="560" y="352.7" text-anchor="middle" fill="#e82438" stroke="#e82438" stroke-width="0.1">α3</text>
<rect x="582.62" y="355.03" width="2.9" height="12.05" fill="#f7c02e" stroke="#70747a" stroke-width="0.85"/>
<text x="584.7" y="352.7" text-anchor="middle" fill="#2f5bb4" stroke="#2f5bb4" stroke-width="0.1">α4</text>
<rect x="507.12" y="367.93" width="3.3" height="10.55" fill="#f7c02e" stroke="#70747a" stroke-width="0.85"/>
<text x="507.8" y="388.6" text-anchor="middle" fill="#69ba3e" stroke="#69ba3e" stroke-width="0.1">α1</text>
<rect x="522.12" y="367.93" width="2.7" height="10.55" fill="#ea5c82" stroke="#70747a" stroke-width="0.85"/>
<text x="523" y="388.6" text-anchor="middle" fill="#e82438" stroke="#e82438" stroke-width="0.1">β1</text>
<rect x="546.12" y="367.93" width="4.3" height="10.55" fill="#ea5c82" stroke="#70747a" stroke-width="0.85"/>
<text x="549.4" y="388.6" text-anchor="middle" fill="#e82438" stroke="#e82438" stroke-width="0.1">β2</text>
<rect x="570.42" y="367.93" width="4.2" height="10.55" fill="#ea5c82" stroke="#70747a" stroke-width="0.85"/>
<text x="573" y="388.6" text-anchor="middle" fill="#e82438" stroke="#e82438" stroke-width="0.1">β3</text>
<rect x="596.33" y="367.93" width="4.2" height="10.55" fill="#f7c02e" stroke="#70747a" stroke-width="0.85"/>
<text x="599" y="388.6" text-anchor="middle" fill="#2f5bb4" stroke="#2f5bb4" stroke-width="0.1">α5</text>
<rect x="297.6" y="424" width="80.9" height="1.0" fill="#74777b"/>
<rect x="297.73" y="414.33" width="3.5" height="9.75" fill="#f7c02e" stroke="#70747a" stroke-width="0.85"/>
<text x="300.3" y="411.1" text-anchor="middle" fill="#69ba3e" stroke="#69ba3e" stroke-width="0.1">α2</text>
<rect x="374.73" y="414.33" width="3.7" height="9.75" fill="#f7c02e" stroke="#70747a" stroke-width="0.85"/>
<text x="377" y="411.1" text-anchor="middle" fill="#69ba3e" stroke="#69ba3e" stroke-width="0.1">α1</text>
<rect x="312.62" y="424.93" width="4.7" height="10.85" fill="#ea5c82" stroke="#70747a" stroke-width="0.85"/>
<text x="314" y="447.8" text-anchor="middle" fill="#69ba3e" stroke="#69ba3e" stroke-width="0.1">β2</text>
<rect x="362.62" y="424.93" width="2.7" height="10.85" fill="#ea5c82" stroke="#70747a" stroke-width="0.85"/>
<text x="364" y="447.8" text-anchor="middle" fill="#69ba3e" stroke="#69ba3e" stroke-width="0.1">β1</text>
<rect x="473.2" y="423.8" width="315.4" height="1.0" fill="#74777b"/>
<rect x="510.62" y="414.12" width="3.7" height="9.75" fill="#f7c02e" stroke="#70747a" stroke-width="0.85"/>
<text x="513" y="410.5" text-anchor="middle" fill="#2f5bb4" stroke="#2f5bb4" stroke-width="0.1">α1</text>
<rect x="544.42" y="414.12" width="3.2" height="9.75" fill="#f7c02e" stroke="#70747a" stroke-width="0.85"/>
<text x="545.8" y="410.5" text-anchor="middle" fill="#2f5bb4" stroke="#2f5bb4" stroke-width="0.1">α2</text>
<rect x="570.42" y="414.12" width="3.1" height="9.75" fill="#f7c02e" stroke="#70747a" stroke-width="0.85"/>
<text x="573" y="410.5" text-anchor="middle" fill="#2f5bb4" stroke="#2f5bb4" stroke-width="0.1">α3</text>
<rect x="616.33" y="414.12" width="3" height="9.75" fill="#ea5c82" stroke="#70747a" stroke-width="0.85"/>
<text x="617.5" y="410.5" text-anchor="middle" fill="#e82438" stroke="#e82438" stroke-width="0.1">β4</text>
<rect x="660.52" y="414.12" width="3.2" height="9.75" fill="#ea5c82" stroke="#70747a" stroke-width="0.85"/>
<text x="661" y="410.5" text-anchor="middle" fill="#e82438" stroke="#e82438" stroke-width="0.1">β5</text>
<rect x="704.33" y="414.12" width="3.1" height="9.75" fill="#ea5c82" stroke="#70747a" stroke-width="0.85"/>
<text x="704.8" y="410.5" text-anchor="middle" fill="#e82438" stroke="#e82438" stroke-width="0.1">β6</text>
<rect x="473.9" y="424.3" width="1" height="12" fill="#6a6d70"/>
<text x="474.3" y="447.6" text-anchor="middle" fill="#000004" stroke="#000004" stroke-width="0.1">β</text>
<rect x="498.73" y="424.73" width="3.9" height="11.85" fill="#ea5c82" stroke="#70747a" stroke-width="0.85"/>
<text x="501" y="447.6" text-anchor="middle" fill="#2f5bb4" stroke="#2f5bb4" stroke-width="0.1">β1</text>
<rect x="536.62" y="424.73" width="2.9" height="11.85" fill="#ea5c82" stroke="#70747a" stroke-width="0.85"/>
<text x="538" y="447.6" text-anchor="middle" fill="#2f5bb4" stroke="#2f5bb4" stroke-width="0.1">β2</text>
<rect x="561.33" y="424.73" width="3.1" height="11.85" fill="#ea5c82" stroke="#70747a" stroke-width="0.85"/>
<text x="562.7" y="447.6" text-anchor="middle" fill="#2f5bb4" stroke="#2f5bb4" stroke-width="0.1">β3</text>
<rect x="648.83" y="424.73" width="2.9" height="11.85" fill="#f7c02e" stroke="#70747a" stroke-width="0.85"/>
<text x="651" y="447.6" text-anchor="middle" fill="#e82438" stroke="#e82438" stroke-width="0.1">α4</text>
<rect x="685.33" y="424.73" width="2.7" height="11.85" fill="#f7c02e" stroke="#70747a" stroke-width="0.85"/>
<text x="687" y="447.6" text-anchor="middle" fill="#e82438" stroke="#e82438" stroke-width="0.1">α5</text>
<rect x="740.62" y="424.73" width="2.7" height="11.85" fill="#f7c02e" stroke="#70747a" stroke-width="0.85"/>
<text x="742.4" y="448.2" text-anchor="middle" fill="#e82438" stroke="#e82438" stroke-width="0.1">α6</text>
<rect x="782.73" y="424.73" width="5.8" height="11.85" fill="#f7c02e" stroke="#70747a" stroke-width="0.85"/>
<text x="785.6" y="449.7" text-anchor="middle" fill="#e82438" stroke="#e82438" stroke-width="0.1">α7</text>
<rect x="288.3" y="485.9" width="56.1" height="1.0" fill="#74777b"/>
<rect x="288.43" y="476.43" width="4" height="9.55" fill="#e6e6e6" stroke="#70747a" stroke-width="0.85"/>
<text x="291" y="473.2" text-anchor="middle" fill="#000004" stroke="#000004" stroke-width="0.1">α2</text>
<rect x="341.73" y="476.43" width="2.6" height="9.55" fill="#f7c02e" stroke="#70747a" stroke-width="0.85"/>
<text x="342.2" y="473.2" text-anchor="middle" fill="#69ba3e" stroke="#69ba3e" stroke-width="0.1">α1</text>
<rect x="299.43" y="486.82" width="2.9" height="8.45" fill="#f7c02e" stroke="#70747a" stroke-width="0.85"/>
<text x="300.7" y="508" text-anchor="middle" fill="#e82438" stroke="#e82438" stroke-width="0.1">β2</text>
<rect x="331.62" y="486.82" width="2.9" height="8.45" fill="#ea5c82" stroke="#70747a" stroke-width="0.85"/>
<text x="334" y="508" text-anchor="middle" fill="#69ba3e" stroke="#69ba3e" stroke-width="0.1">β1</text>
<rect x="355" y="485.9" width="34.8" height="1.0" fill="#74777b"/>
<rect x="355.12" y="476.43" width="3.8" height="9.55" fill="#f7c02e" stroke="#70747a" stroke-width="0.85"/>
<text x="357.4" y="473.2" text-anchor="middle" fill="#69ba3e" stroke="#69ba3e" stroke-width="0.1">α2</text>
<rect x="386.82" y="476.43" width="2.9" height="9.55" fill="#f7c02e" stroke="#70747a" stroke-width="0.85"/>
<text x="386.7" y="473.2" text-anchor="middle" fill="#2f5bb4" stroke="#2f5bb4" stroke-width="0.1">α1</text>
<rect x="366.62" y="486.82" width="4.7" height="8.45" fill="#e6e6e6" stroke="#70747a" stroke-width="0.85"/>
<text x="365.8" y="508" text-anchor="middle" fill="#000004" stroke="#000004" stroke-width="0.1">β2</text>
<rect x="375.43" y="486.82" width="2.9" height="8.45" fill="#ea5c82" stroke="#70747a" stroke-width="0.85"/>
<text x="379.8" y="508" text-anchor="middle" fill="#69ba3e" stroke="#69ba3e" stroke-width="0.1">β1</text>
<rect x="477.3" y="480.7" width="146.2" height="1.0" fill="#74777b"/>
<rect x="493.73" y="471.43" width="1.7" height="9.35" fill="#2d2d2d" stroke="#3a3a3a" stroke-width="0.85"/>
<text x="494.5" y="468.3" text-anchor="middle" fill="#000004" stroke="#000004" stroke-width="0.1">α1</text>
<rect x="512.42" y="471.43" width="3" height="9.35" fill="#f7c02e" stroke="#70747a" stroke-width="0.85"/>
<text x="514" y="468.3" text-anchor="middle" fill="#2f5bb4" stroke="#2f5bb4" stroke-width="0.1">α2</text>
<rect x="536.62" y="471.43" width="2.9" height="9.35" fill="#ea5c82" stroke="#70747a" stroke-width="0.85"/>
<text x="537.4" y="468.3" text-anchor="middle" fill="#e82438" stroke="#e82438" stroke-width="0.1">β3</text>
<rect x="559.73" y="471.43" width="2.9" height="9.35" fill="#ea5c82" stroke="#70747a" stroke-width="0.85"/>
<text x="562.3" y="468.3" text-anchor="middle" fill="#e82438" stroke="#e82438" stroke-width="0.1">β4</text>
<rect x="583.33" y="471.43" width="3" height="9.35" fill="#ea5c82" stroke="#70747a" stroke-width="0.85"/>
<text x="585" y="468.3" text-anchor="middle" fill="#e82438" stroke="#e82438" stroke-width="0.1">β5</text>
<rect x="605.42" y="471.43" width="3.7" height="9.35" fill="#ea5c82" stroke="#70747a" stroke-width="0.85"/>
<text x="607.5" y="468.3" text-anchor="middle" fill="#69ba3e" stroke="#69ba3e" stroke-width="0.1">β6</text>
<rect x="477.43" y="481.62" width="3.1" height="9.15" fill="#ea5c82" stroke="#70747a" stroke-width="0.85"/>
<text x="478.6" y="500.8" text-anchor="middle" fill="#69ba3e" stroke="#69ba3e" stroke-width="0.1">β1</text>
<rect x="504.12" y="481.62" width="4.2" height="9.15" fill="#ea5c82" stroke="#70747a" stroke-width="0.85"/>
<text x="507.4" y="500.8" text-anchor="middle" fill="#2f5bb4" stroke="#2f5bb4" stroke-width="0.1">β2</text>
<rect x="548.83" y="481.62" width="3.4" height="9.15" fill="#f7c02e" stroke="#70747a" stroke-width="0.85"/>
<text x="550.9" y="502.7" text-anchor="middle" fill="#e82438" stroke="#e82438" stroke-width="0.1">α3</text>
<rect x="572.12" y="481.62" width="3.3" height="9.15" fill="#f7c02e" stroke="#70747a" stroke-width="0.85"/>
<text x="574.3" y="502.7" text-anchor="middle" fill="#e82438" stroke="#e82438" stroke-width="0.1">α4</text>
<rect x="595.62" y="481.62" width="3.7" height="9.15" fill="#f7c02e" stroke="#70747a" stroke-width="0.85"/>
<text x="599" y="502.7" text-anchor="middle" fill="#e82438" stroke="#e82438" stroke-width="0.1">α5</text>
<rect x="620.12" y="481.62" width="3.3" height="9.15" fill="#f7c02e" stroke="#70747a" stroke-width="0.85"/>
<text x="621.2" y="502.7" text-anchor="middle" fill="#e82438" stroke="#e82438" stroke-width="0.1">α6</text>
<rect x="657" y="480.7" width="136.8" height="1.0" fill="#74777b"/>
<rect x="659.73" y="471.23" width="7.7" height="9.55" fill="#e6e6e6" stroke="#70747a" stroke-width="0.85"/>
<text x="662" y="467" text-anchor="middle" fill="#000004" stroke="#000004" stroke-width="0.1">β</text>
<rect x="705.02" y="471.23" width="3.2" height="9.55" fill="#f7c02e" stroke="#70747a" stroke-width="0.85"/>
<text x="706.9" y="468" text-anchor="middle" fill="#2f5bb4" stroke="#2f5bb4" stroke-width="0.1">α1</text>
<rect x="736.73" y="471.23" width="2.7" height="9.55" fill="#ea5c82" stroke="#70747a" stroke-width="0.85"/>
<text x="738" y="468" text-anchor="middle" fill="#e82438" stroke="#e82438" stroke-width="0.1">β2</text>
<rect x="758.83" y="471.23" width="2.7" height="9.55" fill="#ea5c82" stroke="#70747a" stroke-width="0.85"/>
<text x="759" y="468" text-anchor="middle" fill="#69ba3e" stroke="#69ba3e" stroke-width="0.1">β3</text>
<rect x="657.12" y="481.62" width="2.7" height="9.15" fill="#f7f7f7" stroke="#70747a" stroke-width="0.85"/>
<text x="658" y="500.6" text-anchor="middle" fill="#000004" stroke="#000004" stroke-width="0.1">β</text>
<rect x="695.73" y="481.62" width="2.7" height="9.15" fill="#ea5c82" stroke="#70747a" stroke-width="0.85"/>
<text x="698.3" y="500.6" text-anchor="middle" fill="#2f5bb4" stroke="#2f5bb4" stroke-width="0.1">β1</text>
<rect x="749.73" y="481.62" width="6.8" height="9.15" fill="#f7c02e" stroke="#70747a" stroke-width="0.85"/>
<text x="752.5" y="503.8" text-anchor="middle" fill="#e82438" stroke="#e82438" stroke-width="0.1">α2</text>
<rect x="775.73" y="481.62" width="2.7" height="9.15" fill="#f7c02e" stroke="#70747a" stroke-width="0.85"/>
<text x="777.8" y="503.8" text-anchor="middle" fill="#e82438" stroke="#e82438" stroke-width="0.1">α3</text>
<rect x="790.52" y="481.62" width="3.2" height="9.15" fill="#f7c02e" stroke="#70747a" stroke-width="0.85"/>
<text x="794.7" y="503.8" text-anchor="middle" fill="#e82438" stroke="#e82438" stroke-width="0.1">α4</text>
<rect x="287.4" y="539.1" width="54.2" height="1.0" fill="#74777b"/>
<rect x="287.52" y="530.12" width="4.9" height="9.05" fill="#f7c02e" stroke="#70747a" stroke-width="0.85"/>
<text x="290.6" y="527.3" text-anchor="middle" fill="#69ba3e" stroke="#69ba3e" stroke-width="0.1">α1</text>
<rect x="336.62" y="540.02" width="4.9" height="8.65" fill="#e6e6e6" stroke="#70747a" stroke-width="0.85"/>
<text x="339.4" y="561.9" text-anchor="middle" fill="#000004" stroke="#000004" stroke-width="0.1">β1</text>
<rect x="352.3" y="540.6" width="82.3" height="1.0" fill="#74777b"/>
<rect x="352.43" y="532.12" width="3.9" height="8.55" fill="#f7c02e" stroke="#70747a" stroke-width="0.85"/>
<text x="354.8" y="528" text-anchor="middle" fill="#69ba3e" stroke="#69ba3e" stroke-width="0.1">α3</text>
<rect x="373.43" y="532.12" width="2.7" height="8.55" fill="#f7c02e" stroke="#70747a" stroke-width="0.85"/>
<text x="375.8" y="528" text-anchor="middle" fill="#69ba3e" stroke="#69ba3e" stroke-width="0.1">α2</text>
<rect x="401.52" y="532.12" width="2.1" height="8.55" fill="#f7f7f7" stroke="#70747a" stroke-width="0.85"/>
<text x="402.2" y="528.7" text-anchor="middle" fill="#000004" stroke="#000004" stroke-width="0.1">β1</text>
<rect x="431.93" y="532.12" width="2.6" height="8.55" fill="#f7c02e" stroke="#70747a" stroke-width="0.85"/>
<text x="432.2" y="528" text-anchor="middle" fill="#000004" stroke="#000004" stroke-width="0.1">α1</text>
<rect x="385.52" y="541.52" width="3" height="8.15" fill="#f7f7f7" stroke="#70747a" stroke-width="0.85"/>
<text x="387.6" y="561.9" text-anchor="middle" fill="#000004" stroke="#000004" stroke-width="0.1">β2</text>
<rect x="496.8" y="539.9" width="230.9" height="1.0" fill="#74777b"/>
<rect x="506.52" y="529.32" width="3.1" height="10.65" fill="#f7c02e" stroke="#70747a" stroke-width="0.85"/>
<text x="507" y="527" text-anchor="middle" fill="#2f5bb4" stroke="#2f5bb4" stroke-width="0.1">α1</text>
<rect x="560.52" y="529.32" width="2.9" height="10.65" fill="#2d2d2d" stroke="#3a3a3a" stroke-width="0.85"/>
<text x="563.3" y="525.5" text-anchor="middle" fill="#000004" stroke="#000004" stroke-width="0.1">α2</text>
<rect x="594.83" y="529.32" width="2.7" height="10.65" fill="#f7c02e" stroke="#70747a" stroke-width="0.85"/>
<text x="596.4" y="527" text-anchor="middle" fill="#2f5bb4" stroke="#2f5bb4" stroke-width="0.1">α3</text>
<rect x="637.62" y="529.32" width="3.2" height="10.65" fill="#ea5c82" stroke="#70747a" stroke-width="0.85"/>
<text x="637.3" y="527" text-anchor="middle" fill="#000004" stroke="#000004" stroke-width="0.1">β3</text>
<rect x="641.52" y="529.32" width="2.7" height="10.65" fill="#f7f7f7" stroke="#70747a" stroke-width="0.85"/>
<text x="642" y="552" text-anchor="middle" fill="#000004" stroke="#000004" stroke-width="0.1">β4</text>
<rect x="677.33" y="529.32" width="3.2" height="10.65" fill="#ea5c82" stroke="#70747a" stroke-width="0.85"/>
<text x="679.5" y="527.9" text-anchor="middle" fill="#000004" stroke="#000004" stroke-width="0.1">β5</text>
<rect x="496.93" y="540.82" width="2.9" height="8.85" fill="#ea5c82" stroke="#70747a" stroke-width="0.85"/>
<text x="498" y="559.3" text-anchor="middle" fill="#2f5bb4" stroke="#2f5bb4" stroke-width="0.1">β1</text>
<rect x="585.92" y="540.82" width="3.5" height="8.85" fill="#ea5c82" stroke="#70747a" stroke-width="0.85"/>
<text x="588.6" y="559.3" text-anchor="middle" fill="#2f5bb4" stroke="#2f5bb4" stroke-width="0.1">β2</text>
<rect x="667.52" y="540.82" width="3.1" height="8.85" fill="#f7c02e" stroke="#70747a" stroke-width="0.85"/>
<text x="670.2" y="561.2" text-anchor="middle" fill="#000004" stroke="#000004" stroke-width="0.1">α4</text>
<rect x="693.52" y="540.82" width="3" height="8.85" fill="#f7c02e" stroke="#70747a" stroke-width="0.85"/>
<text x="693.5" y="561.2" text-anchor="middle" fill="#000004" stroke="#000004" stroke-width="0.1">α5</text>
<rect x="724.73" y="540.82" width="2.9" height="8.85" fill="#f7c02e" stroke="#70747a" stroke-width="0.85"/>
<text x="724.7" y="561.2" text-anchor="middle" fill="#000004" stroke="#000004" stroke-width="0.1">α6</text>
<rect x="741.4" y="540.8" width="155.2" height="1.0" fill="#74777b"/>
<rect x="752.12" y="529.62" width="2.8" height="11.25" fill="#2d2d2d" stroke="#3a3a3a" stroke-width="0.85"/>
<text x="753.2" y="527.9" text-anchor="middle" fill="#000004" stroke="#000004" stroke-width="0.1">α</text>
<rect x="785.83" y="529.62" width="3.5" height="11.25" fill="#f7c02e" stroke="#70747a" stroke-width="0.85"/>
<text x="786.9" y="527.9" text-anchor="middle" fill="#000004" stroke="#000004" stroke-width="0.1">α1</text>
<rect x="830.73" y="529.62" width="3.5" height="11.25" fill="#ea5c82" stroke="#70747a" stroke-width="0.85"/>
<text x="831.9" y="527.9" text-anchor="middle" fill="#000004" stroke="#000004" stroke-width="0.1">β1</text>
<rect x="863.52" y="529.62" width="3" height="11.25" fill="#ea5c82" stroke="#70747a" stroke-width="0.85"/>
<text x="865" y="527.9" text-anchor="middle" fill="#000004" stroke="#000004" stroke-width="0.1">β2</text>
<rect x="741.52" y="541.72" width="3.3" height="8.55" fill="#f7f7f7" stroke="#70747a" stroke-width="0.85"/>
<text x="743.7" y="562" text-anchor="middle" fill="#000004" stroke="#000004" stroke-width="0.1">β</text>
<rect x="776.42" y="541.72" width="4.1" height="8.55" fill="#e6e6e6" stroke="#70747a" stroke-width="0.85"/>
<text x="778.3" y="562" text-anchor="middle" fill="#000004" stroke="#000004" stroke-width="0.1">β</text>
<rect x="851.52" y="541.72" width="3" height="8.55" fill="#f7c02e" stroke="#70747a" stroke-width="0.85"/>
<text x="853.5" y="562" text-anchor="middle" fill="#000004" stroke="#000004" stroke-width="0.1">α2</text>
<rect x="893.52" y="541.72" width="3" height="8.55" fill="#f7c02e" stroke="#70747a" stroke-width="0.85"/>
<text x="895.9" y="562" text-anchor="middle" fill="#000004" stroke="#000004" stroke-width="0.1">α3</text>
<rect x="292.3" y="607.1" width="45.1" height="1.0" fill="#74777b"/>
<rect x="340.8" y="607.1" width="92.5" height="1.0" fill="#74777b"/>
<rect x="337" y="604.8" width="0.8" height="5.4" fill="#9a9da0"/>
<rect x="340.4" y="604.8" width="0.8" height="5.4" fill="#9a9da0"/>
<rect x="292.43" y="598.32" width="3.8" height="8.85" fill="#f7c02e" stroke="#70747a" stroke-width="0.85"/>
<text x="294.3" y="594.8" text-anchor="middle" fill="#2f5bb4" stroke="#2f5bb4" stroke-width="0.1">α2</text>
<rect x="329.32" y="598.32" width="3.3" height="8.85" fill="#f7c02e" stroke="#70747a" stroke-width="0.85"/>
<text x="330.5" y="594.8" text-anchor="middle" fill="#2f5bb4" stroke="#2f5bb4" stroke-width="0.1">α1</text>
<rect x="344.43" y="599.62" width="9.8" height="7.55" fill="#e6e6e6" stroke="#70747a" stroke-width="0.85"/>
<text x="348.3" y="595.6" text-anchor="middle" fill="#000004" stroke="#000004" stroke-width="0.1">β2</text>
<rect x="375.52" y="599.62" width="3.8" height="7.55" fill="#2d2d2d" stroke="#3a3a3a" stroke-width="0.85"/>
<text x="378" y="595.8" text-anchor="middle" fill="#000004" stroke="#000004" stroke-width="0.1">α</text>
<rect x="428.73" y="599.62" width="4.5" height="7.55" fill="#2d2d2d" stroke="#3a3a3a" stroke-width="0.85"/>
<text x="431" y="596.8" text-anchor="middle" fill="#000004" stroke="#000004" stroke-width="0.1">α</text>
<rect x="302.62" y="608.02" width="2.9" height="8.65" fill="#f7f7f7" stroke="#70747a" stroke-width="0.85"/>
<text x="303" y="626.9" text-anchor="middle" fill="#000004" stroke="#000004" stroke-width="0.1">β4</text>
<rect x="318.43" y="608.02" width="3.3" height="8.65" fill="#f7f7f7" stroke="#70747a" stroke-width="0.85"/>
<text x="322" y="626.9" text-anchor="middle" fill="#000004" stroke="#000004" stroke-width="0.1">β3</text>
<rect x="356.73" y="608.02" width="3.8" height="8.65" fill="#ea5c82" stroke="#70747a" stroke-width="0.85"/>
<text x="359" y="629.7" text-anchor="middle" fill="#69ba3e" stroke="#69ba3e" stroke-width="0.1">β1</text>
<rect x="387.43" y="608.02" width="3.3" height="8.65" fill="#f7f7f7" stroke="#70747a" stroke-width="0.85"/>
<text x="389.3" y="629.2" text-anchor="middle" fill="#000004" stroke="#000004" stroke-width="0.1">β</text>
<rect x="416.73" y="608.02" width="3.7" height="8.65" fill="#e6e6e6" stroke="#70747a" stroke-width="0.85"/>
<text x="418.3" y="629.2" text-anchor="middle" fill="#000004" stroke="#000004" stroke-width="0.1">β</text>
<rect x="497.5" y="581.8" width="233.9" height="1.0" fill="#74777b"/>
<rect x="512.42" y="573.22" width="3" height="8.65" fill="#f7c02e" stroke="#70747a" stroke-width="0.85"/>
<text x="514.3" y="569.5" text-anchor="middle" fill="#69ba3e" stroke="#69ba3e" stroke-width="0.1">α1</text>
<rect x="575.62" y="573.22" width="2.9" height="8.65" fill="#f7c02e" stroke="#70747a" stroke-width="0.85"/>
<text x="578.6" y="570.3" text-anchor="middle" fill="#2f5bb4" stroke="#2f5bb4" stroke-width="0.1">α2</text>
<rect x="594.83" y="573.22" width="3.1" height="8.65" fill="#f7c02e" stroke="#70747a" stroke-width="0.85"/>
<text x="596" y="570.3" text-anchor="middle" fill="#69ba3e" stroke="#69ba3e" stroke-width="0.1">α3</text>
<rect x="615.62" y="573.22" width="2.7" height="8.65" fill="#f7c02e" stroke="#70747a" stroke-width="0.85"/>
<text x="619.5" y="569.5" text-anchor="middle" fill="#2f5bb4" stroke="#2f5bb4" stroke-width="0.1" font-size="13.5">α4</text>
<rect x="725.83" y="573.22" width="5.5" height="8.65" fill="#f7c02e" stroke="#70747a" stroke-width="0.85"/>
<text x="729" y="571.3" text-anchor="middle" fill="#2f5bb4" stroke="#2f5bb4" stroke-width="0.1" font-size="13.5">α5</text>
<rect x="497.62" y="582.72" width="2.9" height="8.55" fill="#ea5c82" stroke="#70747a" stroke-width="0.85"/>
<text x="498.7" y="601.2" text-anchor="middle" fill="#69ba3e" stroke="#69ba3e" stroke-width="0.1">β1</text>
<rect x="501.52" y="582.72" width="2.9" height="8.55" fill="#ea5c82" stroke="#70747a" stroke-width="0.85"/>
<text x="504.8" y="578.6" text-anchor="middle" fill="#69ba3e" stroke="#69ba3e" stroke-width="0.1">β2</text>
<rect x="560.52" y="582.72" width="2.9" height="8.55" fill="#ea5c82" stroke="#70747a" stroke-width="0.85"/>
<text x="563" y="601.2" text-anchor="middle" fill="#69ba3e" stroke="#69ba3e" stroke-width="0.1">β3</text>
<rect x="567.52" y="582.72" width="2.9" height="8.55" fill="#ea5c82" stroke="#70747a" stroke-width="0.85"/>
<text x="568" y="578" text-anchor="middle" fill="#2f5bb4" stroke="#2f5bb4" stroke-width="0.1">β4</text>
<rect x="606.52" y="582.72" width="3.9" height="8.55" fill="#e6e6e6" stroke="#70747a" stroke-width="0.85"/>
<text x="607.5" y="577.3" text-anchor="middle" fill="#000004" stroke="#000004" stroke-width="0.1">β5</text>
<rect x="611.12" y="582.72" width="2.5" height="8.55" fill="#ea5c82" stroke="#70747a" stroke-width="0.85"/>
<text x="612" y="601.2" text-anchor="middle" fill="#2f5bb4" stroke="#2f5bb4" stroke-width="0.1" font-size="13.5">β6</text>
<rect x="718.42" y="582.72" width="3.8" height="8.55" fill="#e6e6e6" stroke="#70747a" stroke-width="0.85"/>
<text x="721" y="601.3" text-anchor="middle" fill="#000004" stroke="#000004" stroke-width="0.1">β7</text>
<rect x="474.7" y="620.2" width="228.2" height="1.0" fill="#b4b6b8"/>
<rect x="707.7" y="620.8" width="191.6" height="1.0" fill="#74777b"/>
<rect x="702.5" y="618.5" width="0.8" height="5.4" fill="#9a9da0"/>
<rect x="707.3" y="618.5" width="0.8" height="5.4" fill="#9a9da0"/>
<rect x="535.33" y="610.32" width="3.2" height="9.95" fill="#f7c02e" stroke="#70747a" stroke-width="0.85"/>
<text x="537.4" y="607.1" text-anchor="middle" fill="#2f5bb4" stroke="#2f5bb4" stroke-width="0.1">α1</text>
<rect x="578.73" y="610.32" width="2.9" height="9.95" fill="#f7f7f7" stroke="#70747a" stroke-width="0.85"/>
<text x="581.3" y="606.8" text-anchor="middle" fill="#000004" stroke="#000004" stroke-width="0.1">β2</text>
<rect x="603.33" y="610.32" width="3.2" height="9.95" fill="#f7f7f7" stroke="#70747a" stroke-width="0.85"/>
<text x="602.9" y="631" text-anchor="middle" fill="#000004" stroke="#000004" stroke-width="0.1">β3</text>
<rect x="629.33" y="610.32" width="2.4" height="9.95" fill="#f7f7f7" stroke="#70747a" stroke-width="0.85"/>
<text x="631.7" y="606.8" text-anchor="middle" fill="#000004" stroke="#000004" stroke-width="0.1">β4</text>
<rect x="639.73" y="610.32" width="2.9" height="9.95" fill="#ea5c82" stroke="#70747a" stroke-width="0.85"/>
<text x="638.3" y="629.7" text-anchor="middle" fill="#e82438" stroke="#e82438" stroke-width="0.1">β5</text>
<rect x="655.33" y="610.32" width="4.2" height="9.95" fill="#e6e6e6" stroke="#70747a" stroke-width="0.85"/>
<text x="657" y="606.8" text-anchor="middle" fill="#000004" stroke="#000004" stroke-width="0.1">β6</text>
<rect x="723.52" y="610.32" width="3" height="10.55" fill="#ea5c82" stroke="#70747a" stroke-width="0.85"/>
<text x="729.3" y="632.1" text-anchor="middle" fill="#e82438" stroke="#e82438" stroke-width="0.1">β7</text>
<rect x="762.42" y="610.32" width="2.6" height="10.55" fill="#ea5c82" stroke="#70747a" stroke-width="0.85"/>
<text x="760" y="607" text-anchor="middle" fill="#e82438" stroke="#e82438" stroke-width="0.1">β8</text>
<rect x="769.52" y="610.32" width="2.7" height="10.55" fill="#ea5c82" stroke="#70747a" stroke-width="0.85"/>
<text x="775.3" y="607" text-anchor="middle" fill="#e82438" stroke="#e82438" stroke-width="0.1">β9</text>
<rect x="847.9" y="610.6" width="1.9" height="10.7" fill="#6a6d70"/>
<text x="850.2" y="607.9" text-anchor="middle" fill="#000004" stroke="#000004" stroke-width="0.1">β10</text>
<rect x="874.62" y="610.32" width="4.5" height="10.55" fill="#e6e6e6" stroke="#70747a" stroke-width="0.85"/>
<text x="877.4" y="607.9" text-anchor="middle" fill="#000004" stroke="#000004" stroke-width="0.1">β11</text>
<rect x="474.82" y="621.12" width="2.9" height="10.25" fill="#f7f7f7" stroke="#70747a" stroke-width="0.85"/>
<text x="475.3" y="639.6" text-anchor="middle" fill="#000004" stroke="#000004" stroke-width="0.1">β</text>
<rect x="528.52" y="621.12" width="3" height="10.25" fill="#ea5c82" stroke="#70747a" stroke-width="0.85"/>
<text x="530.8" y="641.4" text-anchor="middle" fill="#2f5bb4" stroke="#2f5bb4" stroke-width="0.1">β1</text>
<rect x="591.73" y="621.12" width="3.7" height="10.25" fill="#f7c02e" stroke="#70747a" stroke-width="0.85"/>
<text x="592" y="616.2" text-anchor="middle" fill="#e82438" stroke="#e82438" stroke-width="0.1">α2</text>
<rect x="611.73" y="621.12" width="1.9" height="10.25" fill="#f7c02e" stroke="#70747a" stroke-width="0.85"/>
<text x="615" y="616.2" text-anchor="middle" fill="#000004" stroke="#000004" stroke-width="0.1">α3</text>
<rect x="619.52" y="621.12" width="3.6" height="10.25" fill="#f7c02e" stroke="#70747a" stroke-width="0.85"/>
<text x="620.8" y="639.6" text-anchor="middle" fill="#e82438" stroke="#e82438" stroke-width="0.1">α4</text>
<rect x="646.73" y="621.12" width="2.7" height="10.25" fill="#f7c02e" stroke="#70747a" stroke-width="0.85"/>
<text x="647" y="639.6" text-anchor="middle" fill="#e82438" stroke="#e82438" stroke-width="0.1">α5</text>
<rect x="665.73" y="621.12" width="4.7" height="10.25" fill="#f7c02e" stroke="#70747a" stroke-width="0.85"/>
<text x="667.5" y="639.6" text-anchor="middle" fill="#e82438" stroke="#e82438" stroke-width="0.1">α6</text>
<rect x="693.52" y="621.12" width="3" height="10.25" fill="#f7c02e" stroke="#70747a" stroke-width="0.85"/>
<text x="695.9" y="640.2" text-anchor="middle" fill="#e82438" stroke="#e82438" stroke-width="0.1">α7</text>
<rect x="716.42" y="621.72" width="3.5" height="9.65" fill="#2d2d2d" stroke="#3a3a3a" stroke-width="0.85"/>
<text x="716" y="615.9" text-anchor="middle" fill="#000004" stroke="#000004" stroke-width="0.1">α8</text>
<rect x="738.73" y="621.72" width="1.9" height="9.65" fill="#2d2d2d" stroke="#3a3a3a" stroke-width="0.85"/>
<text x="739.6" y="640.7" text-anchor="middle" fill="#000004" stroke="#000004" stroke-width="0.1">α9</text>
<rect x="751.52" y="621.72" width="10.7" height="9.65" fill="#2d2d2d" stroke="#3a3a3a" stroke-width="0.85"/>
<text x="757.6" y="640.7" text-anchor="middle" fill="#000004" stroke="#000004" stroke-width="0.1">α10</text>
<rect x="784.42" y="621.72" width="2.9" height="9.65" fill="#2d2d2d" stroke="#3a3a3a" stroke-width="0.85"/>
<text x="786.9" y="640.7" text-anchor="middle" fill="#000004" stroke="#000004" stroke-width="0.1">α11</text>
<rect x="864.42" y="621.72" width="2.9" height="9.65" fill="#f7c02e" stroke="#70747a" stroke-width="0.85"/>
<text x="867.6" y="640.7" text-anchor="middle" fill="#e82438" stroke="#e82438" stroke-width="0.1">α12</text>
<rect x="895.23" y="621.72" width="3.3" height="9.65" fill="#f7c02e" stroke="#70747a" stroke-width="0.85"/>
<text x="898.7" y="640.7" text-anchor="middle" fill="#e82438" stroke="#e82438" stroke-width="0.1">α13</text>
<rect x="310.7" y="668.9" width="59.9" height="1.0" fill="#74777b"/>
<rect x="310.82" y="659.62" width="3.9" height="9.35" fill="#f7c02e" stroke="#70747a" stroke-width="0.85"/>
<text x="313.9" y="655.5" text-anchor="middle" fill="#69ba3e" stroke="#69ba3e" stroke-width="0.1">α2</text>
<rect x="367.73" y="659.62" width="2.8" height="9.35" fill="#f7c02e" stroke="#70747a" stroke-width="0.85"/>
<text x="368.8" y="655.5" text-anchor="middle" fill="#2f5bb4" stroke="#2f5bb4" stroke-width="0.1">α1</text>
<rect x="321.43" y="669.82" width="3.1" height="7.75" fill="#ea5c82" stroke="#70747a" stroke-width="0.85"/>
<text x="323.5" y="688.4" text-anchor="middle" fill="#000004" stroke="#000004" stroke-width="0.1">β2</text>
<rect x="353.73" y="669.82" width="2.8" height="7.75" fill="#ea5c82" stroke="#70747a" stroke-width="0.85"/>
<text x="355.3" y="688.4" text-anchor="middle" fill="#000004" stroke="#000004" stroke-width="0.1">β1</text>
<rect x="479.4" y="672.6" width="184.1" height="1.0" fill="#74777b"/>
<rect x="488.32" y="663.22" width="3.2" height="9.45" fill="#f7c02e" stroke="#70747a" stroke-width="0.85"/>
<text x="490.3" y="660" text-anchor="middle" fill="#2f5bb4" stroke="#2f5bb4" stroke-width="0.1">α1</text>
<rect x="539.73" y="663.22" width="3.7" height="9.45" fill="#f7c02e" stroke="#70747a" stroke-width="0.85"/>
<text x="541.6" y="660" text-anchor="middle" fill="#2f5bb4" stroke="#2f5bb4" stroke-width="0.1">α2</text>
<rect x="577.42" y="663.22" width="3.1" height="9.45" fill="#ea5c82" stroke="#70747a" stroke-width="0.85"/>
<text x="577.7" y="660" text-anchor="middle" fill="#000004" stroke="#000004" stroke-width="0.1">β3</text>
<rect x="599.52" y="663.22" width="3.1" height="9.45" fill="#ea5c82" stroke="#70747a" stroke-width="0.85"/>
<text x="601" y="660" text-anchor="middle" fill="#000004" stroke="#000004" stroke-width="0.1">β4</text>
<rect x="616.33" y="663.22" width="3.2" height="9.45" fill="#ea5c82" stroke="#70747a" stroke-width="0.85"/>
<text x="618" y="660" text-anchor="middle" fill="#000004" stroke="#000004" stroke-width="0.1">β5</text>
<rect x="643.62" y="663.22" width="5" height="9.45" fill="#ea5c82" stroke="#70747a" stroke-width="0.85"/>
<text x="646.5" y="660" text-anchor="middle" fill="#000004" stroke="#000004" stroke-width="0.1">β6</text>
<rect x="660.52" y="663.22" width="2.9" height="9.45" fill="#f7c02e" stroke="#70747a" stroke-width="0.85"/>
<text x="661.8" y="660" text-anchor="middle" fill="#000004" stroke="#000004" stroke-width="0.1">α6</text>
<rect x="479.52" y="673.52" width="4.2" height="8.45" fill="#ea5c82" stroke="#70747a" stroke-width="0.85"/>
<text x="481.3" y="692.8" text-anchor="middle" fill="#2f5bb4" stroke="#2f5bb4" stroke-width="0.1">β1</text>
<rect x="531.42" y="673.52" width="3.2" height="8.45" fill="#ea5c82" stroke="#70747a" stroke-width="0.85"/>
<text x="533.5" y="692.8" text-anchor="middle" fill="#2f5bb4" stroke="#2f5bb4" stroke-width="0.1">β2</text>
<rect x="588.52" y="673.52" width="3" height="8.45" fill="#f7c02e" stroke="#70747a" stroke-width="0.85"/>
<text x="589.9" y="693.3" text-anchor="middle" fill="#000004" stroke="#000004" stroke-width="0.1">α3</text>
<rect x="611.12" y="673.52" width="4.3" height="8.45" fill="#f7c02e" stroke="#70747a" stroke-width="0.85"/>
<text x="613.6" y="693.3" text-anchor="middle" fill="#000004" stroke="#000004" stroke-width="0.1">α4</text>
<rect x="630.62" y="673.52" width="3.7" height="8.45" fill="#f7c02e" stroke="#70747a" stroke-width="0.85"/>
<text x="632.7" y="693.3" text-anchor="middle" fill="#000004" stroke="#000004" stroke-width="0.1">α5</text>
<rect x="679.1" y="672.6" width="218.6" height="1.0" fill="#74777b"/>
<rect x="688.12" y="663.32" width="3.2" height="9.35" fill="#f7c02e" stroke="#70747a" stroke-width="0.85"/>
<text x="690" y="659.9" text-anchor="middle" fill="#2f5bb4" stroke="#2f5bb4" stroke-width="0.1">α1</text>
<rect x="740.12" y="663.32" width="3.2" height="9.35" fill="#f7c02e" stroke="#70747a" stroke-width="0.85"/>
<text x="742.1" y="659.9" text-anchor="middle" fill="#2f5bb4" stroke="#2f5bb4" stroke-width="0.1">α2</text>
<rect x="804.42" y="663.32" width="3.2" height="9.35" fill="#ea5c82" stroke="#70747a" stroke-width="0.85"/>
<text x="806.1" y="659.9" text-anchor="middle" fill="#000004" stroke="#000004" stroke-width="0.1">β3</text>
<rect x="826.42" y="663.32" width="2.9" height="9.35" fill="#ea5c82" stroke="#70747a" stroke-width="0.85"/>
<text x="827.1" y="659.9" text-anchor="middle" fill="#000004" stroke="#000004" stroke-width="0.1">β4</text>
<rect x="838.12" y="663.32" width="3.2" height="9.35" fill="#ea5c82" stroke="#70747a" stroke-width="0.85"/>
<text x="839.9" y="659.9" text-anchor="middle" fill="#000004" stroke="#000004" stroke-width="0.1">β5</text>
<rect x="862.12" y="663.32" width="2.7" height="9.35" fill="#f7f7f7" stroke="#70747a" stroke-width="0.85"/>
<text x="862.9" y="659.9" text-anchor="middle" fill="#000004" stroke="#000004" stroke-width="0.1">β6</text>
<rect x="875.23" y="663.32" width="5.3" height="9.35" fill="#ea5c82" stroke="#70747a" stroke-width="0.85"/>
<text x="879.3" y="659.9" text-anchor="middle" fill="#000004" stroke="#000004" stroke-width="0.1">β7</text>
<rect x="679.23" y="673.52" width="3.3" height="8.85" fill="#ea5c82" stroke="#70747a" stroke-width="0.85"/>
<text x="681.1" y="693.6" text-anchor="middle" fill="#2f5bb4" stroke="#2f5bb4" stroke-width="0.1">β1</text>
<rect x="731.52" y="673.52" width="4.1" height="8.85" fill="#ea5c82" stroke="#70747a" stroke-width="0.85"/>
<text x="733.9" y="693.6" text-anchor="middle" fill="#2f5bb4" stroke="#2f5bb4" stroke-width="0.1">β2</text>
<rect x="815.23" y="673.52" width="3.3" height="8.85" fill="#f7c02e" stroke="#70747a" stroke-width="0.85"/>
<text x="815.9" y="695" text-anchor="middle" fill="#000004" stroke="#000004" stroke-width="0.1">α3</text>
<rect x="833.02" y="673.52" width="3.2" height="8.85" fill="#f7c02e" stroke="#70747a" stroke-width="0.85"/>
<text x="835.7" y="695" text-anchor="middle" fill="#000004" stroke="#000004" stroke-width="0.1">α4</text>
<rect x="857.23" y="673.52" width="4.1" height="8.85" fill="#f7c02e" stroke="#70747a" stroke-width="0.85"/>
<text x="857.6" y="695.6" text-anchor="middle" fill="#000004" stroke="#000004" stroke-width="0.1">α5</text>
<rect x="864.12" y="673.52" width="3.2" height="8.85" fill="#2d2d2d" stroke="#3a3a3a" stroke-width="0.85"/>
<text x="870.7" y="695.6" text-anchor="middle" fill="#000004" stroke="#000004" stroke-width="0.1">α6</text>
<rect x="894.42" y="673.52" width="3.2" height="8.85" fill="#f7c02e" stroke="#70747a" stroke-width="0.85"/>
<text x="896.4" y="695" text-anchor="middle" fill="#000004" stroke="#000004" stroke-width="0.1">α7</text>
<rect x="313.7" y="722.8" width="59.9" height="1.0" fill="#74777b"/>
<rect x="313.82" y="711.42" width="3.7" height="11.45" fill="#f7c02e" stroke="#70747a" stroke-width="0.85"/>
<text x="316.2" y="707.5" text-anchor="middle" fill="#69ba3e" stroke="#69ba3e" stroke-width="0.1">α2</text>
<rect x="370.02" y="711.42" width="3.5" height="11.45" fill="#f7c02e" stroke="#70747a" stroke-width="0.85"/>
<text x="370.6" y="707.5" text-anchor="middle" fill="#000004" stroke="#000004" stroke-width="0.1">α1</text>
<rect x="323.52" y="723.72" width="2.8" height="11.95" fill="#ea5c82" stroke="#70747a" stroke-width="0.85"/>
<text x="324.1" y="747" text-anchor="middle" fill="#000004" stroke="#000004" stroke-width="0.1">β1</text>
<rect x="596.2" y="723.7" width="183.8" height="1.0" fill="#74777b"/>
<rect x="604.12" y="711.12" width="3.2" height="12.65" fill="#f7c02e" stroke="#70747a" stroke-width="0.85"/>
<text x="606.2" y="705.5" text-anchor="middle" fill="#2f5bb4" stroke="#2f5bb4" stroke-width="0.1">α1</text>
<rect x="670.33" y="711.12" width="3" height="12.65" fill="#f7c02e" stroke="#70747a" stroke-width="0.85"/>
<text x="671.2" y="707" text-anchor="middle" fill="#2f5bb4" stroke="#2f5bb4" stroke-width="0.1">α2</text>
<rect x="705.83" y="711.12" width="2.7" height="12.65" fill="#ea5c82" stroke="#70747a" stroke-width="0.85"/>
<text x="708.3" y="707.7" text-anchor="middle" fill="#69ba3e" stroke="#69ba3e" stroke-width="0.1">β3</text>
<rect x="727.83" y="711.12" width="2.7" height="12.65" fill="#ea5c82" stroke="#70747a" stroke-width="0.85"/>
<text x="730" y="706.6" text-anchor="middle" fill="#000004" stroke="#000004" stroke-width="0.1">β4</text>
<rect x="751.52" y="711.12" width="3" height="12.65" fill="#ea5c82" stroke="#70747a" stroke-width="0.85"/>
<text x="751.9" y="706.6" text-anchor="middle" fill="#000004" stroke="#000004" stroke-width="0.1">β5</text>
<rect x="777.9" y="711.4" width="2.1" height="12.8" fill="#6a6d70"/>
<text x="777.6" y="707.7" text-anchor="middle" fill="#000004" stroke="#000004" stroke-width="0.1">β6</text>
<rect x="596.33" y="724.62" width="3.5" height="10.85" fill="#ea5c82" stroke="#70747a" stroke-width="0.85"/>
<text x="598.7" y="746.4" text-anchor="middle" fill="#2f5bb4" stroke="#2f5bb4" stroke-width="0.1">β1</text>
<rect x="663.33" y="724.62" width="3.1" height="10.85" fill="#ea5c82" stroke="#70747a" stroke-width="0.85"/>
<text x="665" y="746.4" text-anchor="middle" fill="#2f5bb4" stroke="#2f5bb4" stroke-width="0.1">β2</text>
<rect x="719.52" y="724.62" width="1.9" height="10.85" fill="#f7c02e" stroke="#70747a" stroke-width="0.85"/>
<text x="721.1" y="746.4" text-anchor="middle" fill="#69ba3e" stroke="#69ba3e" stroke-width="0.1">α3</text>
<rect x="739.52" y="724.62" width="1.9" height="10.85" fill="#f7c02e" stroke="#70747a" stroke-width="0.85"/>
<text x="741.9" y="744.3" text-anchor="middle" fill="#000004" stroke="#000004" stroke-width="0.1">α4</text>
<rect x="763.02" y="724.62" width="2.6" height="10.85" fill="#f7c02e" stroke="#70747a" stroke-width="0.85"/>
<text x="765.3" y="744.3" text-anchor="middle" fill="#69ba3e" stroke="#69ba3e" stroke-width="0.1">α5</text>
<rect x="462.2" y="776.6" width="124.9" height="1.0" fill="#74777b"/>
<rect x="462.32" y="765.22" width="3.2" height="11.45" fill="#f7c02e" stroke="#70747a" stroke-width="0.85"/>
<text x="463.4" y="760.8" text-anchor="middle" fill="#000004" stroke="#000004" stroke-width="0.1">α1</text>
<rect x="475.32" y="765.22" width="2.4" height="11.45" fill="#f7c02e" stroke="#70747a" stroke-width="0.85"/>
<text x="479.2" y="760.8" text-anchor="middle" fill="#000004" stroke="#000004" stroke-width="0.1">α2</text>
<rect x="554.02" y="766.52" width="2.7" height="10.15" fill="#ea5c82" stroke="#70747a" stroke-width="0.85"/>
<text x="555" y="764.1" text-anchor="middle" fill="#000004" stroke="#000004" stroke-width="0.1">β3</text>
<rect x="569.62" y="766.52" width="2.9" height="10.15" fill="#ea5c82" stroke="#70747a" stroke-width="0.85"/>
<text x="570.4" y="764.1" text-anchor="middle" fill="#000004" stroke="#000004" stroke-width="0.1">β4</text>
<rect x="493.52" y="777.52" width="2.4" height="10.15" fill="#ea5c82" stroke="#70747a" stroke-width="0.85"/>
<text x="488" y="797.7" text-anchor="middle" fill="#000004" stroke="#000004" stroke-width="0.1">β1</text>
<rect x="500.12" y="777.52" width="2.5" height="10.15" fill="#f7c02e" stroke="#70747a" stroke-width="0.85"/>
<text x="501.3" y="771.2" text-anchor="middle" fill="#000004" stroke="#000004" stroke-width="0.1">α3</text>
<rect x="510.43" y="777.52" width="2.4" height="10.15" fill="#ea5c82" stroke="#70747a" stroke-width="0.85"/>
<text x="511.4" y="797.7" text-anchor="middle" fill="#000004" stroke="#000004" stroke-width="0.1">β2</text>
<rect x="518.42" y="777.52" width="4.2" height="10.15" fill="#f7c02e" stroke="#70747a" stroke-width="0.85"/>
<text x="519.7" y="771.2" text-anchor="middle" fill="#000004" stroke="#000004" stroke-width="0.1">α4</text>
<rect x="580.52" y="777.52" width="6.5" height="10.15" fill="#e6e6e6" stroke="#70747a" stroke-width="0.85"/>
<text x="583.1" y="797.7" text-anchor="middle" fill="#000004" stroke="#000004" stroke-width="0.1">β5</text>
</g>
</svg>
<div class="edge"></div>
</body></html>
